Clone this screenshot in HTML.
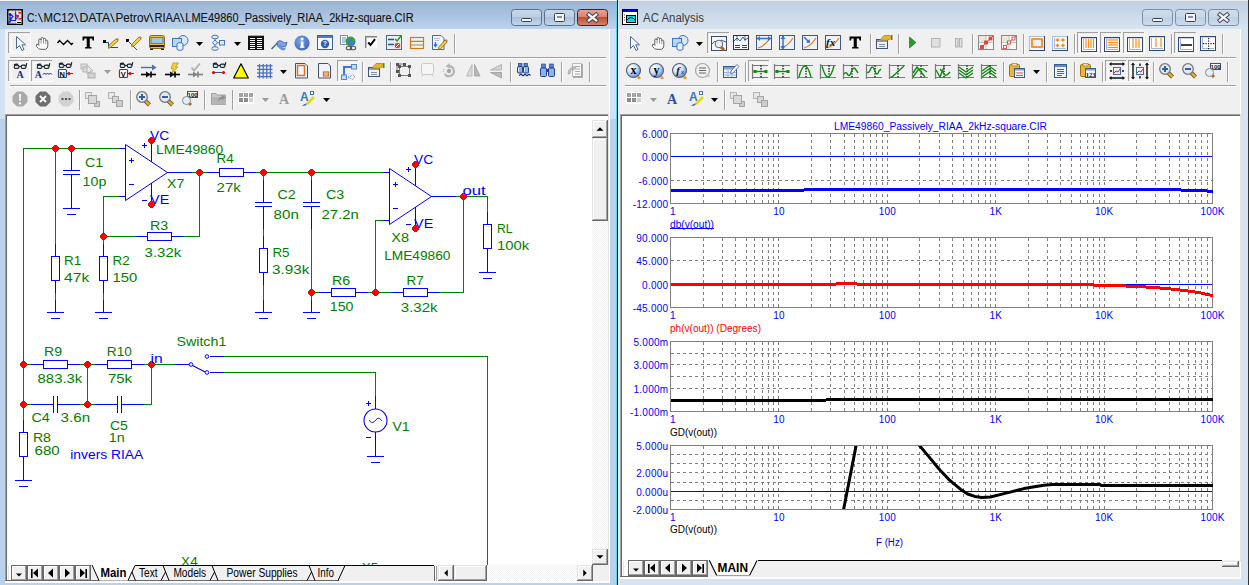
<!DOCTYPE html>
<html><head><meta charset="utf-8"><title>Micro-Cap</title>
<style>html,body{margin:0;padding:0;background:#fff;overflow:hidden}svg{display:block}</style>
</head><body>
<svg width="1249" height="585" viewBox="0 0 1249 585" font-family="Liberation Sans, sans-serif">
<rect x="0" y="0" width="617" height="585" fill="#b9d1ea" />
<linearGradient id="tg0" x1="0" y1="0" x2="0" y2="1"><stop offset="0" stop-color="#97b2d2"/><stop offset="1" stop-color="#bcd3eb"/></linearGradient>
<rect x="0" y="1" width="617" height="28" fill="url(#tg0)" />
<rect x="0" y="0" width="617" height="1" fill="#f3f5f8" />
<rect x="617" y="0" width="632" height="585" fill="#d6e3f1" />
<linearGradient id="tg617" x1="0" y1="0" x2="0" y2="1"><stop offset="0" stop-color="#bfcfdf"/><stop offset="1" stop-color="#d7e4f2"/></linearGradient>
<rect x="617" y="1" width="632" height="28" fill="url(#tg617)" />
<rect x="617" y="0" width="632" height="1" fill="#e9edf2" />
<rect x="0" y="29" width="5" height="90" fill="#d3e2f2" />
<rect x="610" y="29" width="6" height="90" fill="#d3e2f2" />
<rect x="616" y="1" width="1" height="584" fill="#5cd0f2" />
<rect x="617" y="0" width="1" height="585" fill="#111" />
<rect x="618" y="1" width="1" height="584" fill="#e4eef8" />
<rect x="619" y="29" width="1" height="556" fill="#e4eef8" />
<rect x="1248" y="0" width="1" height="585" fill="#333" />
<rect x="5" y="29" width="605" height="552" fill="#f0f0f0" />
<rect x="5" y="581" width="605" height="1" fill="#ffffff" />
<rect x="5" y="582" width="605" height="1" fill="#ffffff" />
<rect x="609" y="29" width="1" height="554" fill="#ffffff" />
<rect x="620" y="29" width="620" height="548" fill="#f0f0f0" />
<rect x="620" y="577" width="621" height="1" fill="#ffffff" />
<rect x="620" y="578" width="621" height="1" fill="#ffffff" />
<rect x="1240" y="29" width="1" height="550" fill="#ffffff" />
<text x="27.0" y="22" fill="#141414" font-size="12" textLength="10.4" lengthAdjust="spacingAndGlyphs" stroke="#141414" stroke-width="0.12">C:</text>
<text x="43.5" y="22" fill="#141414" font-size="12" textLength="30.3" lengthAdjust="spacingAndGlyphs" stroke="#141414" stroke-width="0.12">MC12</text>
<text x="79.4" y="22" fill="#141414" font-size="12" textLength="30.9" lengthAdjust="spacingAndGlyphs" stroke="#141414" stroke-width="0.12">DATA</text>
<text x="115.5" y="22" fill="#141414" font-size="12" textLength="33.8" lengthAdjust="spacingAndGlyphs" stroke="#141414" stroke-width="0.12">Petrov</text>
<text x="154.4" y="22" fill="#141414" font-size="12" textLength="25.9" lengthAdjust="spacingAndGlyphs" stroke="#141414" stroke-width="0.12">RIAA</text>
<text x="185.3" y="22" fill="#141414" font-size="12" textLength="228.3" lengthAdjust="spacingAndGlyphs" stroke="#141414" stroke-width="0.12">LME49860_Passively_RIAA_2kHz-square.CIR</text>
<path d="M38.4 13.2 L42.4 22.3" stroke="#222" stroke-width="1.05"/>
<path d="M74.5 13.2 L78.2 22.3" stroke="#222" stroke-width="1.05"/>
<path d="M110.5 13.2 L114.3 22.3" stroke="#222" stroke-width="1.05"/>
<path d="M149.5 13.2 L153.2 22.3" stroke="#222" stroke-width="1.05"/>
<path d="M180.4 13.2 L184.1 22.3" stroke="#222" stroke-width="1.05"/>
<text x="643" y="21.5" fill="#3c3c3c" font-size="12" textLength="61" lengthAdjust="spacingAndGlyphs" >AC Analysis</text>
<linearGradient id="cb511" x1="0" y1="0" x2="0" y2="1"><stop offset="0" stop-color="#c6d7ea"/><stop offset="0.45" stop-color="#bccfe4"/><stop offset="0.5" stop-color="#a9c0db"/><stop offset="1" stop-color="#c3d6ec"/></linearGradient>
<rect x="511.5" y="9.5" width="30" height="16" rx="3" fill="url(#cb511)" stroke="#5d6f86"/>
<rect x="521.5" y="18.5" width="10" height="3" rx="1" fill="#f4f4f4" stroke="#3b3f55" stroke-width="1"/>
<linearGradient id="cb544" x1="0" y1="0" x2="0" y2="1"><stop offset="0" stop-color="#c6d7ea"/><stop offset="0.45" stop-color="#bccfe4"/><stop offset="0.5" stop-color="#a9c0db"/><stop offset="1" stop-color="#c3d6ec"/></linearGradient>
<rect x="544.5" y="9.5" width="30" height="16" rx="3" fill="url(#cb544)" stroke="#5d6f86"/>
<rect x="554.5" y="13.5" width="10" height="8" rx="1" fill="#f4f4f4" stroke="#3b3f55" stroke-width="1"/>
<rect x="557.0" y="16" width="5" height="2" fill="#8090b0"/>
<linearGradient id="cb577" x1="0" y1="0" x2="0" y2="1"><stop offset="0" stop-color="#e8a493"/><stop offset="0.45" stop-color="#d98570"/><stop offset="0.5" stop-color="#c24e30"/><stop offset="1" stop-color="#d7866e"/></linearGradient>
<rect x="577.5" y="9.5" width="30" height="16" rx="3" fill="url(#cb577)" stroke="#5a1a1a"/>
<path d="M588.9 14.6 L596.1 20.4 M596.1 14.6 L588.9 20.4" stroke="#3b3f55" stroke-width="4.2" stroke-linecap="square"/>
<path d="M588.9 14.6 L596.1 20.4 M596.1 14.6 L588.9 20.4" stroke="#f4f4f4" stroke-width="2.4" stroke-linecap="square"/>
<linearGradient id="cb1142" x1="0" y1="0" x2="0" y2="1"><stop offset="0" stop-color="#cfdcea"/><stop offset="0.45" stop-color="#c9d8e8"/><stop offset="0.5" stop-color="#bfd0e3"/><stop offset="1" stop-color="#ccdcec"/></linearGradient>
<rect x="1142.5" y="9.5" width="30" height="16" rx="3" fill="url(#cb1142)" stroke="#7d8ea6"/>
<rect x="1152.5" y="18.5" width="10" height="3" rx="1" fill="#f4f4f4" stroke="#3b3f55" stroke-width="1"/>
<linearGradient id="cb1175" x1="0" y1="0" x2="0" y2="1"><stop offset="0" stop-color="#cfdcea"/><stop offset="0.45" stop-color="#c9d8e8"/><stop offset="0.5" stop-color="#bfd0e3"/><stop offset="1" stop-color="#ccdcec"/></linearGradient>
<rect x="1175.5" y="9.5" width="30" height="16" rx="3" fill="url(#cb1175)" stroke="#7d8ea6"/>
<rect x="1185.5" y="13.5" width="10" height="8" rx="1" fill="#f4f4f4" stroke="#3b3f55" stroke-width="1"/>
<rect x="1188.0" y="16" width="5" height="2" fill="#8090b0"/>
<linearGradient id="cb1208" x1="0" y1="0" x2="0" y2="1"><stop offset="0" stop-color="#cfdcea"/><stop offset="0.45" stop-color="#c9d8e8"/><stop offset="0.5" stop-color="#bfd0e3"/><stop offset="1" stop-color="#ccdcec"/></linearGradient>
<rect x="1208.5" y="9.5" width="30" height="16" rx="3" fill="url(#cb1208)" stroke="#7d8ea6"/>
<path d="M1219.9 14.6 L1227.1 20.4 M1227.1 14.6 L1219.9 20.4" stroke="#3b3f55" stroke-width="4.2" stroke-linecap="square"/>
<path d="M1219.9 14.6 L1227.1 20.4 M1227.1 14.6 L1219.9 20.4" stroke="#f4f4f4" stroke-width="2.4" stroke-linecap="square"/>
<rect x="10" y="57" width="596" height="1" fill="#a0a0a0" />
<rect x="10" y="58" width="596" height="1" fill="#ffffff" />
<rect x="10" y="85" width="596" height="1" fill="#a0a0a0" />
<rect x="10" y="86" width="596" height="1" fill="#ffffff" />
<rect x="625" y="57" width="611" height="1" fill="#a0a0a0" />
<rect x="625" y="58" width="611" height="1" fill="#ffffff" />
<rect x="625" y="85" width="611" height="1" fill="#a0a0a0" />
<rect x="625" y="86" width="611" height="1" fill="#ffffff" />
<rect x="5" y="114" width="604" height="453" fill="#ffffff" />
<rect x="5" y="114" width="604" height="1" fill="#a0a0a0" />
<rect x="5" y="114" width="1" height="453" fill="#a0a0a0" />
<rect x="6" y="115" width="602" height="1" fill="#696969" />
<rect x="6" y="115" width="1" height="452" fill="#696969" />
<rect x="608" y="114" width="1" height="453" fill="#e3e3e3" />
<rect x="5" y="566" width="1" height="15" fill="#a0a0a0" />
<rect x="6" y="566" width="1" height="15" fill="#696969" />
<rect x="620" y="114" width="621" height="448" fill="#ffffff" />
<rect x="620" y="114" width="621" height="1" fill="#a0a0a0" />
<rect x="620" y="114" width="1" height="448" fill="#a0a0a0" />
<rect x="621" y="115" width="619" height="1" fill="#696969" />
<rect x="621" y="115" width="1" height="447" fill="#696969" />
<rect x="1240" y="114" width="1" height="448" fill="#e3e3e3" />
<rect x="620" y="561" width="1" height="16" fill="#a0a0a0" />
<rect x="621" y="561" width="1" height="16" fill="#696969" />
<clipPath id="schclip"><rect x="7" y="116" width="585" height="449"/></clipPath>
<g clip-path="url(#schclip)">
<path d="M119.5 148.5 L23.5 148.5 L23.5 420.5" stroke="#008000" stroke-width="1" fill="none" shape-rendering="crispEdges" stroke-linecap="square"/>
<path d="M55.5 148.5 L55.5 244.5" stroke="#008000" stroke-width="1" fill="none" shape-rendering="crispEdges" stroke-linecap="square"/>
<path d="M55.5 292.5 L55.5 300.5" stroke="#008000" stroke-width="1" fill="none" shape-rendering="crispEdges" stroke-linecap="square"/>
<path d="M119.5 196.5 L103.5 196.5 L103.5 244.5" stroke="#008000" stroke-width="1" fill="none" shape-rendering="crispEdges" stroke-linecap="square"/>
<path d="M103.5 292.5 L103.5 300.5" stroke="#008000" stroke-width="1" fill="none" shape-rendering="crispEdges" stroke-linecap="square"/>
<path d="M103.5 236.5 L135.5 236.5" stroke="#008000" stroke-width="1" fill="none" shape-rendering="crispEdges" stroke-linecap="square"/>
<path d="M183.5 236.5 L199.5 236.5 L199.5 172.5" stroke="#008000" stroke-width="1" fill="none" shape-rendering="crispEdges" stroke-linecap="square"/>
<path d="M191.5 172.5 L207.5 172.5" stroke="#008000" stroke-width="1" fill="none" shape-rendering="crispEdges" stroke-linecap="square"/>
<path d="M255.5 172.5 L383.5 172.5" stroke="#008000" stroke-width="1" fill="none" shape-rendering="crispEdges" stroke-linecap="square"/>
<path d="M263.5 172.5 L263.5 180.5" stroke="#008000" stroke-width="1" fill="none" shape-rendering="crispEdges" stroke-linecap="square"/>
<path d="M263.5 228.5 L263.5 236.5" stroke="#008000" stroke-width="1" fill="none" shape-rendering="crispEdges" stroke-linecap="square"/>
<path d="M263.5 284.5 L263.5 300.5" stroke="#008000" stroke-width="1" fill="none" shape-rendering="crispEdges" stroke-linecap="square"/>
<path d="M311.5 172.5 L311.5 180.5" stroke="#008000" stroke-width="1" fill="none" shape-rendering="crispEdges" stroke-linecap="square"/>
<path d="M311.5 228.5 L311.5 300.5" stroke="#008000" stroke-width="1" fill="none" shape-rendering="crispEdges" stroke-linecap="square"/>
<path d="M311.5 292.5 L319.5 292.5" stroke="#008000" stroke-width="1" fill="none" shape-rendering="crispEdges" stroke-linecap="square"/>
<path d="M367.5 292.5 L391.5 292.5" stroke="#008000" stroke-width="1" fill="none" shape-rendering="crispEdges" stroke-linecap="square"/>
<path d="M375.5 292.5 L375.5 220.5 L383.5 220.5" stroke="#008000" stroke-width="1" fill="none" shape-rendering="crispEdges" stroke-linecap="square"/>
<path d="M439.5 292.5 L463.5 292.5 L463.5 196.5" stroke="#008000" stroke-width="1" fill="none" shape-rendering="crispEdges" stroke-linecap="square"/>
<path d="M455.5 196.5 L487.5 196.5 L487.5 212.5" stroke="#008000" stroke-width="1" fill="none" shape-rendering="crispEdges" stroke-linecap="square"/>
<path d="M23.5 364.5 L31.5 364.5" stroke="#008000" stroke-width="1" fill="none" shape-rendering="crispEdges" stroke-linecap="square"/>
<path d="M79.5 364.5 L95.5 364.5" stroke="#008000" stroke-width="1" fill="none" shape-rendering="crispEdges" stroke-linecap="square"/>
<path d="M143.5 364.5 L175.5 364.5" stroke="#008000" stroke-width="1" fill="none" shape-rendering="crispEdges" stroke-linecap="square"/>
<path d="M87.5 364.5 L87.5 404.5" stroke="#008000" stroke-width="1" fill="none" shape-rendering="crispEdges" stroke-linecap="square"/>
<path d="M151.5 364.5 L151.5 404.5 L143.5 404.5" stroke="#008000" stroke-width="1" fill="none" shape-rendering="crispEdges" stroke-linecap="square"/>
<path d="M23.5 404.5 L31.5 404.5" stroke="#008000" stroke-width="1" fill="none" shape-rendering="crispEdges" stroke-linecap="square"/>
<path d="M79.5 404.5 L95.5 404.5" stroke="#008000" stroke-width="1" fill="none" shape-rendering="crispEdges" stroke-linecap="square"/>
<path d="M223.5 356.5 L487.5 356.5 L487.5 570.5" stroke="#008000" stroke-width="1" fill="none" shape-rendering="crispEdges" stroke-linecap="square"/>
<path d="M223.5 372.5 L375.5 372.5 L375.5 396.5" stroke="#008000" stroke-width="1" fill="none" shape-rendering="crispEdges" stroke-linecap="square"/>
<path d="M71.5 148.5 L71.5 170.5" stroke="#0000ff" stroke-width="1" fill="none" shape-rendering="crispEdges" stroke-linecap="square"/>
<path d="M71.5 174.5 L71.5 196.5" stroke="#0000ff" stroke-width="1" fill="none" shape-rendering="crispEdges" stroke-linecap="square"/>
<path d="M63.5 170.5 L79.5 170.5" stroke="#0000ff" stroke-width="1" fill="none" shape-rendering="crispEdges" stroke-linecap="square"/>
<path d="M63.5 174.5 L79.5 174.5" stroke="#0000ff" stroke-width="1" fill="none" shape-rendering="crispEdges" stroke-linecap="square"/>
<path d="M71.5 196.5 L71.5 208.5" stroke="#0000ff" stroke-width="1" fill="none" shape-rendering="crispEdges" stroke-linecap="square"/>
<path d="M63.5 208.5 L79.5 208.5" stroke="#0000ff" stroke-width="1" fill="none" shape-rendering="crispEdges" stroke-linecap="square"/>
<path d="M67.5 214.5 L75.5 214.5" stroke="#0000ff" stroke-width="1" fill="none" shape-rendering="crispEdges" stroke-linecap="square"/>
<path d="M55.5 244.5 L55.5 256.5" stroke="#0000ff" stroke-width="1" fill="none" shape-rendering="crispEdges" stroke-linecap="square"/>
<path d="M55.5 280.5 L55.5 292.5" stroke="#0000ff" stroke-width="1" fill="none" shape-rendering="crispEdges" stroke-linecap="square"/>
<rect x="51.5" y="256.5" width="8" height="24" fill="none" stroke="#0000ff" shape-rendering="crispEdges"/>
<path d="M55.5 300.5 L55.5 312.5" stroke="#0000ff" stroke-width="1" fill="none" shape-rendering="crispEdges" stroke-linecap="square"/>
<path d="M47.5 312.5 L63.5 312.5" stroke="#0000ff" stroke-width="1" fill="none" shape-rendering="crispEdges" stroke-linecap="square"/>
<path d="M51.5 318.5 L59.5 318.5" stroke="#0000ff" stroke-width="1" fill="none" shape-rendering="crispEdges" stroke-linecap="square"/>
<path d="M103.5 244.5 L103.5 256.5" stroke="#0000ff" stroke-width="1" fill="none" shape-rendering="crispEdges" stroke-linecap="square"/>
<path d="M103.5 280.5 L103.5 292.5" stroke="#0000ff" stroke-width="1" fill="none" shape-rendering="crispEdges" stroke-linecap="square"/>
<rect x="99.5" y="256.5" width="8" height="24" fill="none" stroke="#0000ff" shape-rendering="crispEdges"/>
<path d="M103.5 300.5 L103.5 312.5" stroke="#0000ff" stroke-width="1" fill="none" shape-rendering="crispEdges" stroke-linecap="square"/>
<path d="M95.5 312.5 L111.5 312.5" stroke="#0000ff" stroke-width="1" fill="none" shape-rendering="crispEdges" stroke-linecap="square"/>
<path d="M99.5 318.5 L107.5 318.5" stroke="#0000ff" stroke-width="1" fill="none" shape-rendering="crispEdges" stroke-linecap="square"/>
<path d="M135.5 236.5 L147.5 236.5" stroke="#0000ff" stroke-width="1" fill="none" shape-rendering="crispEdges" stroke-linecap="square"/>
<path d="M171.5 236.5 L183.5 236.5" stroke="#0000ff" stroke-width="1" fill="none" shape-rendering="crispEdges" stroke-linecap="square"/>
<rect x="147.5" y="232.5" width="24" height="8" fill="none" stroke="#0000ff" shape-rendering="crispEdges"/>
<path d="M207.5 172.5 L219.5 172.5" stroke="#0000ff" stroke-width="1" fill="none" shape-rendering="crispEdges" stroke-linecap="square"/>
<path d="M243.5 172.5 L255.5 172.5" stroke="#0000ff" stroke-width="1" fill="none" shape-rendering="crispEdges" stroke-linecap="square"/>
<rect x="219.5" y="168.5" width="24" height="8" fill="none" stroke="#0000ff" shape-rendering="crispEdges"/>
<path d="M263.5 180.5 L263.5 202.5" stroke="#0000ff" stroke-width="1" fill="none" shape-rendering="crispEdges" stroke-linecap="square"/>
<path d="M263.5 206.5 L263.5 228.5" stroke="#0000ff" stroke-width="1" fill="none" shape-rendering="crispEdges" stroke-linecap="square"/>
<path d="M255.5 202.5 L271.5 202.5" stroke="#0000ff" stroke-width="1" fill="none" shape-rendering="crispEdges" stroke-linecap="square"/>
<path d="M255.5 206.5 L271.5 206.5" stroke="#0000ff" stroke-width="1" fill="none" shape-rendering="crispEdges" stroke-linecap="square"/>
<path d="M263.5 236.5 L263.5 248.5" stroke="#0000ff" stroke-width="1" fill="none" shape-rendering="crispEdges" stroke-linecap="square"/>
<path d="M263.5 272.5 L263.5 284.5" stroke="#0000ff" stroke-width="1" fill="none" shape-rendering="crispEdges" stroke-linecap="square"/>
<rect x="259.5" y="248.5" width="8" height="24" fill="none" stroke="#0000ff" shape-rendering="crispEdges"/>
<path d="M263.5 300.5 L263.5 312.5" stroke="#0000ff" stroke-width="1" fill="none" shape-rendering="crispEdges" stroke-linecap="square"/>
<path d="M255.5 312.5 L271.5 312.5" stroke="#0000ff" stroke-width="1" fill="none" shape-rendering="crispEdges" stroke-linecap="square"/>
<path d="M259.5 318.5 L267.5 318.5" stroke="#0000ff" stroke-width="1" fill="none" shape-rendering="crispEdges" stroke-linecap="square"/>
<path d="M311.5 180.5 L311.5 202.5" stroke="#0000ff" stroke-width="1" fill="none" shape-rendering="crispEdges" stroke-linecap="square"/>
<path d="M311.5 206.5 L311.5 228.5" stroke="#0000ff" stroke-width="1" fill="none" shape-rendering="crispEdges" stroke-linecap="square"/>
<path d="M303.5 202.5 L319.5 202.5" stroke="#0000ff" stroke-width="1" fill="none" shape-rendering="crispEdges" stroke-linecap="square"/>
<path d="M303.5 206.5 L319.5 206.5" stroke="#0000ff" stroke-width="1" fill="none" shape-rendering="crispEdges" stroke-linecap="square"/>
<path d="M311.5 300.5 L311.5 312.5" stroke="#0000ff" stroke-width="1" fill="none" shape-rendering="crispEdges" stroke-linecap="square"/>
<path d="M303.5 312.5 L319.5 312.5" stroke="#0000ff" stroke-width="1" fill="none" shape-rendering="crispEdges" stroke-linecap="square"/>
<path d="M307.5 318.5 L315.5 318.5" stroke="#0000ff" stroke-width="1" fill="none" shape-rendering="crispEdges" stroke-linecap="square"/>
<path d="M319.5 292.5 L331.5 292.5" stroke="#0000ff" stroke-width="1" fill="none" shape-rendering="crispEdges" stroke-linecap="square"/>
<path d="M355.5 292.5 L367.5 292.5" stroke="#0000ff" stroke-width="1" fill="none" shape-rendering="crispEdges" stroke-linecap="square"/>
<rect x="331.5" y="288.5" width="24" height="8" fill="none" stroke="#0000ff" shape-rendering="crispEdges"/>
<path d="M391.5 292.5 L403.5 292.5" stroke="#0000ff" stroke-width="1" fill="none" shape-rendering="crispEdges" stroke-linecap="square"/>
<path d="M427.5 292.5 L439.5 292.5" stroke="#0000ff" stroke-width="1" fill="none" shape-rendering="crispEdges" stroke-linecap="square"/>
<rect x="403.5" y="288.5" width="24" height="8" fill="none" stroke="#0000ff" shape-rendering="crispEdges"/>
<path d="M487.5 212.5 L487.5 224.5" stroke="#0000ff" stroke-width="1" fill="none" shape-rendering="crispEdges" stroke-linecap="square"/>
<path d="M487.5 248.5 L487.5 260.5" stroke="#0000ff" stroke-width="1" fill="none" shape-rendering="crispEdges" stroke-linecap="square"/>
<rect x="483.5" y="224.5" width="8" height="24" fill="none" stroke="#0000ff" shape-rendering="crispEdges"/>
<path d="M487.5 260.5 L487.5 272.5" stroke="#0000ff" stroke-width="1" fill="none" shape-rendering="crispEdges" stroke-linecap="square"/>
<path d="M479.5 272.5 L495.5 272.5" stroke="#0000ff" stroke-width="1" fill="none" shape-rendering="crispEdges" stroke-linecap="square"/>
<path d="M483.5 278.5 L491.5 278.5" stroke="#0000ff" stroke-width="1" fill="none" shape-rendering="crispEdges" stroke-linecap="square"/>
<path d="M31.5 364.5 L43.5 364.5" stroke="#0000ff" stroke-width="1" fill="none" shape-rendering="crispEdges" stroke-linecap="square"/>
<path d="M67.5 364.5 L79.5 364.5" stroke="#0000ff" stroke-width="1" fill="none" shape-rendering="crispEdges" stroke-linecap="square"/>
<rect x="43.5" y="360.5" width="24" height="8" fill="none" stroke="#0000ff" shape-rendering="crispEdges"/>
<path d="M95.5 364.5 L107.5 364.5" stroke="#0000ff" stroke-width="1" fill="none" shape-rendering="crispEdges" stroke-linecap="square"/>
<path d="M131.5 364.5 L143.5 364.5" stroke="#0000ff" stroke-width="1" fill="none" shape-rendering="crispEdges" stroke-linecap="square"/>
<rect x="107.5" y="360.5" width="24" height="8" fill="none" stroke="#0000ff" shape-rendering="crispEdges"/>
<path d="M31.5 404.5 L53.5 404.5" stroke="#0000ff" stroke-width="1" fill="none" shape-rendering="crispEdges" stroke-linecap="square"/>
<path d="M57.5 404.5 L79.5 404.5" stroke="#0000ff" stroke-width="1" fill="none" shape-rendering="crispEdges" stroke-linecap="square"/>
<path d="M53.5 396.5 L53.5 412.5" stroke="#0000ff" stroke-width="1" fill="none" shape-rendering="crispEdges" stroke-linecap="square"/>
<path d="M57.5 396.5 L57.5 412.5" stroke="#0000ff" stroke-width="1" fill="none" shape-rendering="crispEdges" stroke-linecap="square"/>
<path d="M95.5 404.5 L117.5 404.5" stroke="#0000ff" stroke-width="1" fill="none" shape-rendering="crispEdges" stroke-linecap="square"/>
<path d="M121.5 404.5 L143.5 404.5" stroke="#0000ff" stroke-width="1" fill="none" shape-rendering="crispEdges" stroke-linecap="square"/>
<path d="M117.5 396.5 L117.5 412.5" stroke="#0000ff" stroke-width="1" fill="none" shape-rendering="crispEdges" stroke-linecap="square"/>
<path d="M121.5 396.5 L121.5 412.5" stroke="#0000ff" stroke-width="1" fill="none" shape-rendering="crispEdges" stroke-linecap="square"/>
<path d="M23.5 420.5 L23.5 432.5" stroke="#0000ff" stroke-width="1" fill="none" shape-rendering="crispEdges" stroke-linecap="square"/>
<path d="M23.5 456.5 L23.5 468.5" stroke="#0000ff" stroke-width="1" fill="none" shape-rendering="crispEdges" stroke-linecap="square"/>
<rect x="19.5" y="432.5" width="8" height="24" fill="none" stroke="#0000ff" shape-rendering="crispEdges"/>
<path d="M23.5 468.5 L23.5 480.5" stroke="#0000ff" stroke-width="1" fill="none" shape-rendering="crispEdges" stroke-linecap="square"/>
<path d="M15.5 480.5 L31.5 480.5" stroke="#0000ff" stroke-width="1" fill="none" shape-rendering="crispEdges" stroke-linecap="square"/>
<path d="M19.5 486.5 L27.5 486.5" stroke="#0000ff" stroke-width="1" fill="none" shape-rendering="crispEdges" stroke-linecap="square"/>
<path d="M119.5 148.5 L125.5 148.5" stroke="#0000ff" stroke-width="1" fill="none" shape-rendering="crispEdges" stroke-linecap="square"/>
<path d="M119.5 196.5 L125.5 196.5" stroke="#0000ff" stroke-width="1" fill="none" shape-rendering="crispEdges" stroke-linecap="square"/>
<path d="M125.5 144.5 L125.5 200.5 L167.5 172.5 Z" fill="none" stroke="#0000ff" stroke-width="1"/>
<path d="M167.5 172.5 L191.5 172.5" stroke="#0000ff" stroke-width="1" fill="none" shape-rendering="crispEdges" stroke-linecap="square"/>
<path d="M151.5 140.5 L151.5 161.5" stroke="#0000ff" stroke-width="1" fill="none" shape-rendering="crispEdges" stroke-linecap="square"/>
<path d="M151.5 183.5 L151.5 204.5" stroke="#0000ff" stroke-width="1" fill="none" shape-rendering="crispEdges" stroke-linecap="square"/>
<path d="M129.5 160.5 L133.5 160.5" stroke="#0000ff" stroke-width="1" fill="none" shape-rendering="crispEdges" stroke-linecap="square"/>
<path d="M131.5 158.5 L131.5 162.5" stroke="#0000ff" stroke-width="1" fill="none" shape-rendering="crispEdges" stroke-linecap="square"/>
<path d="M129.5 184.5 L133.5 184.5" stroke="#0000ff" stroke-width="1" fill="none" shape-rendering="crispEdges" stroke-linecap="square"/>
<path d="M142.5 145.5 L146.5 145.5" stroke="#0000ff" stroke-width="1" fill="none" shape-rendering="crispEdges" stroke-linecap="square"/>
<path d="M144.5 143.5 L144.5 147.5" stroke="#0000ff" stroke-width="1" fill="none" shape-rendering="crispEdges" stroke-linecap="square"/>
<path d="M142.5 200.5 L146.5 200.5" stroke="#0000ff" stroke-width="1" fill="none" shape-rendering="crispEdges" stroke-linecap="square"/>
<path d="M383.5 172.5 L389.5 172.5" stroke="#0000ff" stroke-width="1" fill="none" shape-rendering="crispEdges" stroke-linecap="square"/>
<path d="M383.5 220.5 L389.5 220.5" stroke="#0000ff" stroke-width="1" fill="none" shape-rendering="crispEdges" stroke-linecap="square"/>
<path d="M389.5 168.5 L389.5 224.5 L431.5 196.5 Z" fill="none" stroke="#0000ff" stroke-width="1"/>
<path d="M431.5 196.5 L455.5 196.5" stroke="#0000ff" stroke-width="1" fill="none" shape-rendering="crispEdges" stroke-linecap="square"/>
<path d="M415.5 164.5 L415.5 185.5" stroke="#0000ff" stroke-width="1" fill="none" shape-rendering="crispEdges" stroke-linecap="square"/>
<path d="M415.5 207.5 L415.5 228.5" stroke="#0000ff" stroke-width="1" fill="none" shape-rendering="crispEdges" stroke-linecap="square"/>
<path d="M393.5 184.5 L397.5 184.5" stroke="#0000ff" stroke-width="1" fill="none" shape-rendering="crispEdges" stroke-linecap="square"/>
<path d="M395.5 182.5 L395.5 186.5" stroke="#0000ff" stroke-width="1" fill="none" shape-rendering="crispEdges" stroke-linecap="square"/>
<path d="M393.5 208.5 L397.5 208.5" stroke="#0000ff" stroke-width="1" fill="none" shape-rendering="crispEdges" stroke-linecap="square"/>
<path d="M406.5 169.5 L410.5 169.5" stroke="#0000ff" stroke-width="1" fill="none" shape-rendering="crispEdges" stroke-linecap="square"/>
<path d="M408.5 167.5 L408.5 171.5" stroke="#0000ff" stroke-width="1" fill="none" shape-rendering="crispEdges" stroke-linecap="square"/>
<path d="M406.5 224.5 L410.5 224.5" stroke="#0000ff" stroke-width="1" fill="none" shape-rendering="crispEdges" stroke-linecap="square"/>
<path d="M175.5 364.5 L189.5 364.5" stroke="#0000ff" stroke-width="1" fill="none" shape-rendering="crispEdges" stroke-linecap="square"/>
<circle cx="191" cy="364.5" r="1.8" fill="#fff" stroke="#0000ff" stroke-width="1"/>
<path d="M192.5 365.5 L205.2 372" stroke="#0000ff" stroke-width="1.2"/>
<circle cx="207" cy="356.5" r="1.8" fill="#fff" stroke="#0000ff" stroke-width="1"/>
<circle cx="207" cy="372.5" r="1.8" fill="#fff" stroke="#0000ff" stroke-width="1"/>
<path d="M210.5 356.5 L223.5 356.5" stroke="#0000ff" stroke-width="1" fill="none" shape-rendering="crispEdges" stroke-linecap="square"/>
<path d="M210.5 372.5 L223.5 372.5" stroke="#0000ff" stroke-width="1" fill="none" shape-rendering="crispEdges" stroke-linecap="square"/>
<path d="M375.5 396.5 L375.5 408.5" stroke="#0000ff" stroke-width="1" fill="none" shape-rendering="crispEdges" stroke-linecap="square"/>
<path d="M375.5 432.5 L375.5 444.5" stroke="#0000ff" stroke-width="1" fill="none" shape-rendering="crispEdges" stroke-linecap="square"/>
<path d="M375.5 444.5 L375.5 456.5" stroke="#0000ff" stroke-width="1" fill="none" shape-rendering="crispEdges" stroke-linecap="square"/>
<path d="M367.5 456.5 L383.5 456.5" stroke="#0000ff" stroke-width="1" fill="none" shape-rendering="crispEdges" stroke-linecap="square"/>
<path d="M371.5 462.5 L379.5 462.5" stroke="#0000ff" stroke-width="1" fill="none" shape-rendering="crispEdges" stroke-linecap="square"/>
<circle cx="375.5" cy="420.5" r="11.5" fill="none" stroke="#0000ff" stroke-width="1.1"/>
<path d="M369.3 420.2 C370.5 422.5 372.5 423.2 374.5 421.5 C376.5 419 378 417.6 379.5 418.4 C380.5 419 381.2 420 381.8 420.8" fill="none" stroke="#0000ff" stroke-width="1"/>
<path d="M366.5 403.5 L370.5 403.5" stroke="#0000ff" stroke-width="1" fill="none" shape-rendering="crispEdges" stroke-linecap="square"/>
<path d="M368.5 401.5 L368.5 405.5" stroke="#0000ff" stroke-width="1" fill="none" shape-rendering="crispEdges" stroke-linecap="square"/>
<path d="M366.5 437.5 L370.5 437.5" stroke="#0000ff" stroke-width="1" fill="none" shape-rendering="crispEdges" stroke-linecap="square"/>
<path d="M54 145h3v1h1v1h1v3h-1v1h-1v1h-3v-1h-1v-1h-1v-3h1v-1h1z" fill="#ff0000"/>
<path d="M70 145h3v1h1v1h1v3h-1v1h-1v1h-3v-1h-1v-1h-1v-3h1v-1h1z" fill="#ff0000"/>
<path d="M198 169h3v1h1v1h1v3h-1v1h-1v1h-3v-1h-1v-1h-1v-3h1v-1h1z" fill="#ff0000"/>
<path d="M102 233h3v1h1v1h1v3h-1v1h-1v1h-3v-1h-1v-1h-1v-3h1v-1h1z" fill="#ff0000"/>
<path d="M262 169h3v1h1v1h1v3h-1v1h-1v1h-3v-1h-1v-1h-1v-3h1v-1h1z" fill="#ff0000"/>
<path d="M310 169h3v1h1v1h1v3h-1v1h-1v1h-3v-1h-1v-1h-1v-3h1v-1h1z" fill="#ff0000"/>
<path d="M310 289h3v1h1v1h1v3h-1v1h-1v1h-3v-1h-1v-1h-1v-3h1v-1h1z" fill="#ff0000"/>
<path d="M374 289h3v1h1v1h1v3h-1v1h-1v1h-3v-1h-1v-1h-1v-3h1v-1h1z" fill="#ff0000"/>
<path d="M462 193h3v1h1v1h1v3h-1v1h-1v1h-3v-1h-1v-1h-1v-3h1v-1h1z" fill="#ff0000"/>
<path d="M22 361h3v1h1v1h1v3h-1v1h-1v1h-3v-1h-1v-1h-1v-3h1v-1h1z" fill="#ff0000"/>
<path d="M86 361h3v1h1v1h1v3h-1v1h-1v1h-3v-1h-1v-1h-1v-3h1v-1h1z" fill="#ff0000"/>
<path d="M150 361h3v1h1v1h1v3h-1v1h-1v1h-3v-1h-1v-1h-1v-3h1v-1h1z" fill="#ff0000"/>
<path d="M22 401h3v1h1v1h1v3h-1v1h-1v1h-3v-1h-1v-1h-1v-3h1v-1h1z" fill="#ff0000"/>
<path d="M86 401h3v1h1v1h1v3h-1v1h-1v1h-3v-1h-1v-1h-1v-3h1v-1h1z" fill="#ff0000"/>
<path d="M150 137h3v1h1v1h1v3h-1v1h-1v1h-3v-1h-1v-1h-1v-3h1v-1h1z" fill="#ff0000"/>
<path d="M150 201h3v1h1v1h1v3h-1v1h-1v1h-3v-1h-1v-1h-1v-3h1v-1h1z" fill="#ff0000"/>
<path d="M414 161h3v1h1v1h1v3h-1v1h-1v1h-3v-1h-1v-1h-1v-3h1v-1h1z" fill="#ff0000"/>
<path d="M414 225h3v1h1v1h1v3h-1v1h-1v1h-3v-1h-1v-1h-1v-3h1v-1h1z" fill="#ff0000"/>
<text x="150.1" y="139.5" fill="#0000ff" font-size="12.2" textLength="19.2" lengthAdjust="spacingAndGlyphs" >VC</text>
<text x="156.1" y="153.5" fill="#008000" font-size="12.2" textLength="67.2" lengthAdjust="spacingAndGlyphs" >LME49860</text>
<text x="167.1" y="187.5" fill="#008000" font-size="12.2" textLength="17.2" lengthAdjust="spacingAndGlyphs" >X7</text>
<text x="150.1" y="203.5" fill="#0000ff" font-size="12.2" textLength="19.2" lengthAdjust="spacingAndGlyphs" >VE</text>
<text x="85.1" y="166.5" fill="#008000" font-size="12.2" textLength="18.2" lengthAdjust="spacingAndGlyphs" >C1</text>
<text x="82.6" y="185.5" fill="#008000" font-size="12.2" textLength="23.7" lengthAdjust="spacingAndGlyphs" >10p</text>
<text x="216.6" y="162.5" fill="#008000" font-size="12.2" textLength="17.2" lengthAdjust="spacingAndGlyphs" >R4</text>
<text x="216.6" y="192.0" fill="#008000" font-size="12.2" textLength="24.2" lengthAdjust="spacingAndGlyphs" >27k</text>
<text x="277.6" y="198.5" fill="#008000" font-size="12.2" textLength="18.2" lengthAdjust="spacingAndGlyphs" >C2</text>
<text x="273.6" y="218.5" fill="#008000" font-size="12.2" textLength="25.2" lengthAdjust="spacingAndGlyphs" >80n</text>
<text x="326.1" y="198.5" fill="#008000" font-size="12.2" textLength="18.2" lengthAdjust="spacingAndGlyphs" >C3</text>
<text x="321.6" y="218.5" fill="#008000" font-size="12.2" textLength="37.2" lengthAdjust="spacingAndGlyphs" >27.2n</text>
<text x="150.1" y="229.5" fill="#008000" font-size="12.2" textLength="18.2" lengthAdjust="spacingAndGlyphs" >R3</text>
<text x="144.6" y="256.5" fill="#008000" font-size="12.2" textLength="36.7" lengthAdjust="spacingAndGlyphs" >3.32k</text>
<text x="64.1" y="264.5" fill="#008000" font-size="12.2" textLength="17.2" lengthAdjust="spacingAndGlyphs" >R1</text>
<text x="64.1" y="281.5" fill="#008000" font-size="12.2" textLength="25.2" lengthAdjust="spacingAndGlyphs" >47k</text>
<text x="112.6" y="264.5" fill="#008000" font-size="12.2" textLength="17.2" lengthAdjust="spacingAndGlyphs" >R2</text>
<text x="112.6" y="281.5" fill="#008000" font-size="12.2" textLength="24.7" lengthAdjust="spacingAndGlyphs" >150</text>
<text x="272.4" y="256.5" fill="#008000" font-size="12.2" textLength="17.2" lengthAdjust="spacingAndGlyphs" >R5</text>
<text x="272.1" y="273.5" fill="#008000" font-size="12.2" textLength="37.2" lengthAdjust="spacingAndGlyphs" >3.93k</text>
<text x="332.1" y="284.5" fill="#008000" font-size="12.2" textLength="18.2" lengthAdjust="spacingAndGlyphs" >R6</text>
<text x="329.8" y="311.0" fill="#008000" font-size="12.2" textLength="23.7" lengthAdjust="spacingAndGlyphs" >150</text>
<text x="406.5" y="285.0" fill="#008000" font-size="12.2" textLength="17.2" lengthAdjust="spacingAndGlyphs" >R7</text>
<text x="400.8" y="311.5" fill="#008000" font-size="12.2" textLength="36.8" lengthAdjust="spacingAndGlyphs" >3.32k</text>
<text x="414.1" y="163.5" fill="#0000ff" font-size="12.2" textLength="19.2" lengthAdjust="spacingAndGlyphs" >VC</text>
<text x="414.1" y="227.5" fill="#0000ff" font-size="12.2" textLength="19.2" lengthAdjust="spacingAndGlyphs" >VE</text>
<text x="391.3" y="241.5" fill="#008000" font-size="12.2" textLength="17.8" lengthAdjust="spacingAndGlyphs" >X8</text>
<text x="384.2" y="259.5" fill="#008000" font-size="12.2" textLength="66.2" lengthAdjust="spacingAndGlyphs" >LME49860</text>
<text x="462.4" y="195.0" fill="#0000ff" font-size="12.2" textLength="23.2" lengthAdjust="spacingAndGlyphs" >out</text>
<text x="496.9" y="232.5" fill="#008000" font-size="12.2" textLength="15.5" lengthAdjust="spacingAndGlyphs" >RL</text>
<text x="496.9" y="249.5" fill="#008000" font-size="12.2" textLength="32.2" lengthAdjust="spacingAndGlyphs" >100k</text>
<text x="44.1" y="355.5" fill="#008000" font-size="12.2" textLength="18.0" lengthAdjust="spacingAndGlyphs" >R9</text>
<text x="37.6" y="383.0" fill="#008000" font-size="12.2" textLength="44.7" lengthAdjust="spacingAndGlyphs" >883.3k</text>
<text x="106.8" y="355.5" fill="#008000" font-size="12.2" textLength="25.0" lengthAdjust="spacingAndGlyphs" >R10</text>
<text x="107.9" y="383.0" fill="#008000" font-size="12.2" textLength="24.2" lengthAdjust="spacingAndGlyphs" >75k</text>
<text x="150.6" y="363.0" fill="#0000ff" font-size="12.2" textLength="12.2" lengthAdjust="spacingAndGlyphs" >in</text>
<text x="176.5" y="345.5" fill="#008000" font-size="12.2" textLength="49.8" lengthAdjust="spacingAndGlyphs" >Switch1</text>
<text x="31.4" y="421.5" fill="#008000" font-size="12.2" textLength="18.4" lengthAdjust="spacingAndGlyphs" >C4</text>
<text x="60.6" y="421.5" fill="#008000" font-size="12.2" textLength="29.5" lengthAdjust="spacingAndGlyphs" >3.6n</text>
<text x="109.9" y="429.5" fill="#008000" font-size="12.2" textLength="18.0" lengthAdjust="spacingAndGlyphs" >C5</text>
<text x="108.8" y="442.0" fill="#008000" font-size="12.2" textLength="16.0" lengthAdjust="spacingAndGlyphs" >1n</text>
<text x="70.3" y="459.0" fill="#0000ff" font-size="12.2" textLength="73.0" lengthAdjust="spacingAndGlyphs" >invers RIAA</text>
<text x="32.9" y="441.5" fill="#008000" font-size="12.2" textLength="18.1" lengthAdjust="spacingAndGlyphs" >R8</text>
<text x="34.5" y="455.0" fill="#008000" font-size="12.2" textLength="25.2" lengthAdjust="spacingAndGlyphs" >680</text>
<text x="392.4" y="430.5" fill="#008000" font-size="12.2" textLength="17.2" lengthAdjust="spacingAndGlyphs" >V1</text>
<text x="181.1" y="565.5" fill="#008000" font-size="12.2" textLength="16.6" lengthAdjust="spacingAndGlyphs" >X4</text>
<text x="361.8" y="572.0" fill="#008000" font-size="12.2" textLength="16.3" lengthAdjust="spacingAndGlyphs" >X5</text>
</g>
<line x1="703.5" y1="134" x2="703.5" y2="203" stroke="#808080" stroke-dasharray="3 3" shape-rendering="crispEdges"/>
<line x1="722.5" y1="134" x2="722.5" y2="203" stroke="#808080" stroke-dasharray="3 3" shape-rendering="crispEdges"/>
<line x1="735.5" y1="134" x2="735.5" y2="203" stroke="#808080" stroke-dasharray="3 3" shape-rendering="crispEdges"/>
<line x1="746.5" y1="134" x2="746.5" y2="203" stroke="#808080" stroke-dasharray="3 3" shape-rendering="crispEdges"/>
<line x1="754.5" y1="134" x2="754.5" y2="203" stroke="#808080" stroke-dasharray="3 3" shape-rendering="crispEdges"/>
<line x1="762.5" y1="134" x2="762.5" y2="203" stroke="#808080" stroke-dasharray="3 3" shape-rendering="crispEdges"/>
<line x1="768.5" y1="134" x2="768.5" y2="203" stroke="#808080" stroke-dasharray="3 3" shape-rendering="crispEdges"/>
<line x1="773.5" y1="134" x2="773.5" y2="203" stroke="#808080" stroke-dasharray="3 3" shape-rendering="crispEdges"/>
<line x1="778.5" y1="134" x2="778.5" y2="203" stroke="#808080" stroke-dasharray="3 3" shape-rendering="crispEdges"/>
<line x1="811.5" y1="134" x2="811.5" y2="203" stroke="#808080" stroke-dasharray="3 3" shape-rendering="crispEdges"/>
<line x1="830.5" y1="134" x2="830.5" y2="203" stroke="#808080" stroke-dasharray="3 3" shape-rendering="crispEdges"/>
<line x1="844.5" y1="134" x2="844.5" y2="203" stroke="#808080" stroke-dasharray="3 3" shape-rendering="crispEdges"/>
<line x1="854.5" y1="134" x2="854.5" y2="203" stroke="#808080" stroke-dasharray="3 3" shape-rendering="crispEdges"/>
<line x1="863.5" y1="134" x2="863.5" y2="203" stroke="#808080" stroke-dasharray="3 3" shape-rendering="crispEdges"/>
<line x1="870.5" y1="134" x2="870.5" y2="203" stroke="#808080" stroke-dasharray="3 3" shape-rendering="crispEdges"/>
<line x1="876.5" y1="134" x2="876.5" y2="203" stroke="#808080" stroke-dasharray="3 3" shape-rendering="crispEdges"/>
<line x1="882.5" y1="134" x2="882.5" y2="203" stroke="#808080" stroke-dasharray="3 3" shape-rendering="crispEdges"/>
<line x1="887.5" y1="134" x2="887.5" y2="203" stroke="#808080" stroke-dasharray="3 3" shape-rendering="crispEdges"/>
<line x1="919.5" y1="134" x2="919.5" y2="203" stroke="#808080" stroke-dasharray="3 3" shape-rendering="crispEdges"/>
<line x1="939.5" y1="134" x2="939.5" y2="203" stroke="#808080" stroke-dasharray="3 3" shape-rendering="crispEdges"/>
<line x1="952.5" y1="134" x2="952.5" y2="203" stroke="#808080" stroke-dasharray="3 3" shape-rendering="crispEdges"/>
<line x1="963.5" y1="134" x2="963.5" y2="203" stroke="#808080" stroke-dasharray="3 3" shape-rendering="crispEdges"/>
<line x1="971.5" y1="134" x2="971.5" y2="203" stroke="#808080" stroke-dasharray="3 3" shape-rendering="crispEdges"/>
<line x1="978.5" y1="134" x2="978.5" y2="203" stroke="#808080" stroke-dasharray="3 3" shape-rendering="crispEdges"/>
<line x1="985.5" y1="134" x2="985.5" y2="203" stroke="#808080" stroke-dasharray="3 3" shape-rendering="crispEdges"/>
<line x1="990.5" y1="134" x2="990.5" y2="203" stroke="#808080" stroke-dasharray="3 3" shape-rendering="crispEdges"/>
<line x1="995.5" y1="134" x2="995.5" y2="203" stroke="#808080" stroke-dasharray="3 3" shape-rendering="crispEdges"/>
<line x1="1028.5" y1="134" x2="1028.5" y2="203" stroke="#808080" stroke-dasharray="3 3" shape-rendering="crispEdges"/>
<line x1="1047.5" y1="134" x2="1047.5" y2="203" stroke="#808080" stroke-dasharray="3 3" shape-rendering="crispEdges"/>
<line x1="1060.5" y1="134" x2="1060.5" y2="203" stroke="#808080" stroke-dasharray="3 3" shape-rendering="crispEdges"/>
<line x1="1071.5" y1="134" x2="1071.5" y2="203" stroke="#808080" stroke-dasharray="3 3" shape-rendering="crispEdges"/>
<line x1="1080.5" y1="134" x2="1080.5" y2="203" stroke="#808080" stroke-dasharray="3 3" shape-rendering="crispEdges"/>
<line x1="1087.5" y1="134" x2="1087.5" y2="203" stroke="#808080" stroke-dasharray="3 3" shape-rendering="crispEdges"/>
<line x1="1093.5" y1="134" x2="1093.5" y2="203" stroke="#808080" stroke-dasharray="3 3" shape-rendering="crispEdges"/>
<line x1="1099.5" y1="134" x2="1099.5" y2="203" stroke="#808080" stroke-dasharray="3 3" shape-rendering="crispEdges"/>
<line x1="1104.5" y1="134" x2="1104.5" y2="203" stroke="#808080" stroke-dasharray="3 3" shape-rendering="crispEdges"/>
<line x1="1136.5" y1="134" x2="1136.5" y2="203" stroke="#808080" stroke-dasharray="3 3" shape-rendering="crispEdges"/>
<line x1="1155.5" y1="134" x2="1155.5" y2="203" stroke="#808080" stroke-dasharray="3 3" shape-rendering="crispEdges"/>
<line x1="1169.5" y1="134" x2="1169.5" y2="203" stroke="#808080" stroke-dasharray="3 3" shape-rendering="crispEdges"/>
<line x1="1179.5" y1="134" x2="1179.5" y2="203" stroke="#808080" stroke-dasharray="3 3" shape-rendering="crispEdges"/>
<line x1="1188.5" y1="134" x2="1188.5" y2="203" stroke="#808080" stroke-dasharray="3 3" shape-rendering="crispEdges"/>
<line x1="1195.5" y1="134" x2="1195.5" y2="203" stroke="#808080" stroke-dasharray="3 3" shape-rendering="crispEdges"/>
<line x1="1201.5" y1="134" x2="1201.5" y2="203" stroke="#808080" stroke-dasharray="3 3" shape-rendering="crispEdges"/>
<line x1="1207.5" y1="134" x2="1207.5" y2="203" stroke="#808080" stroke-dasharray="3 3" shape-rendering="crispEdges"/>
<line x1="671" y1="156.5" x2="1212" y2="156.5" stroke="#808080" stroke-dasharray="3 3" shape-rendering="crispEdges"/>
<line x1="671" y1="180.5" x2="1212" y2="180.5" stroke="#808080" stroke-dasharray="3 3" shape-rendering="crispEdges"/>
<rect x="670.5" y="133.5" width="542" height="70" fill="none" stroke="#808080" shape-rendering="crispEdges"/>
<line x1="703.5" y1="238" x2="703.5" y2="307" stroke="#808080" stroke-dasharray="3 3" shape-rendering="crispEdges"/>
<line x1="722.5" y1="238" x2="722.5" y2="307" stroke="#808080" stroke-dasharray="3 3" shape-rendering="crispEdges"/>
<line x1="735.5" y1="238" x2="735.5" y2="307" stroke="#808080" stroke-dasharray="3 3" shape-rendering="crispEdges"/>
<line x1="746.5" y1="238" x2="746.5" y2="307" stroke="#808080" stroke-dasharray="3 3" shape-rendering="crispEdges"/>
<line x1="754.5" y1="238" x2="754.5" y2="307" stroke="#808080" stroke-dasharray="3 3" shape-rendering="crispEdges"/>
<line x1="762.5" y1="238" x2="762.5" y2="307" stroke="#808080" stroke-dasharray="3 3" shape-rendering="crispEdges"/>
<line x1="768.5" y1="238" x2="768.5" y2="307" stroke="#808080" stroke-dasharray="3 3" shape-rendering="crispEdges"/>
<line x1="773.5" y1="238" x2="773.5" y2="307" stroke="#808080" stroke-dasharray="3 3" shape-rendering="crispEdges"/>
<line x1="778.5" y1="238" x2="778.5" y2="307" stroke="#808080" stroke-dasharray="3 3" shape-rendering="crispEdges"/>
<line x1="811.5" y1="238" x2="811.5" y2="307" stroke="#808080" stroke-dasharray="3 3" shape-rendering="crispEdges"/>
<line x1="830.5" y1="238" x2="830.5" y2="307" stroke="#808080" stroke-dasharray="3 3" shape-rendering="crispEdges"/>
<line x1="844.5" y1="238" x2="844.5" y2="307" stroke="#808080" stroke-dasharray="3 3" shape-rendering="crispEdges"/>
<line x1="854.5" y1="238" x2="854.5" y2="307" stroke="#808080" stroke-dasharray="3 3" shape-rendering="crispEdges"/>
<line x1="863.5" y1="238" x2="863.5" y2="307" stroke="#808080" stroke-dasharray="3 3" shape-rendering="crispEdges"/>
<line x1="870.5" y1="238" x2="870.5" y2="307" stroke="#808080" stroke-dasharray="3 3" shape-rendering="crispEdges"/>
<line x1="876.5" y1="238" x2="876.5" y2="307" stroke="#808080" stroke-dasharray="3 3" shape-rendering="crispEdges"/>
<line x1="882.5" y1="238" x2="882.5" y2="307" stroke="#808080" stroke-dasharray="3 3" shape-rendering="crispEdges"/>
<line x1="887.5" y1="238" x2="887.5" y2="307" stroke="#808080" stroke-dasharray="3 3" shape-rendering="crispEdges"/>
<line x1="919.5" y1="238" x2="919.5" y2="307" stroke="#808080" stroke-dasharray="3 3" shape-rendering="crispEdges"/>
<line x1="939.5" y1="238" x2="939.5" y2="307" stroke="#808080" stroke-dasharray="3 3" shape-rendering="crispEdges"/>
<line x1="952.5" y1="238" x2="952.5" y2="307" stroke="#808080" stroke-dasharray="3 3" shape-rendering="crispEdges"/>
<line x1="963.5" y1="238" x2="963.5" y2="307" stroke="#808080" stroke-dasharray="3 3" shape-rendering="crispEdges"/>
<line x1="971.5" y1="238" x2="971.5" y2="307" stroke="#808080" stroke-dasharray="3 3" shape-rendering="crispEdges"/>
<line x1="978.5" y1="238" x2="978.5" y2="307" stroke="#808080" stroke-dasharray="3 3" shape-rendering="crispEdges"/>
<line x1="985.5" y1="238" x2="985.5" y2="307" stroke="#808080" stroke-dasharray="3 3" shape-rendering="crispEdges"/>
<line x1="990.5" y1="238" x2="990.5" y2="307" stroke="#808080" stroke-dasharray="3 3" shape-rendering="crispEdges"/>
<line x1="995.5" y1="238" x2="995.5" y2="307" stroke="#808080" stroke-dasharray="3 3" shape-rendering="crispEdges"/>
<line x1="1028.5" y1="238" x2="1028.5" y2="307" stroke="#808080" stroke-dasharray="3 3" shape-rendering="crispEdges"/>
<line x1="1047.5" y1="238" x2="1047.5" y2="307" stroke="#808080" stroke-dasharray="3 3" shape-rendering="crispEdges"/>
<line x1="1060.5" y1="238" x2="1060.5" y2="307" stroke="#808080" stroke-dasharray="3 3" shape-rendering="crispEdges"/>
<line x1="1071.5" y1="238" x2="1071.5" y2="307" stroke="#808080" stroke-dasharray="3 3" shape-rendering="crispEdges"/>
<line x1="1080.5" y1="238" x2="1080.5" y2="307" stroke="#808080" stroke-dasharray="3 3" shape-rendering="crispEdges"/>
<line x1="1087.5" y1="238" x2="1087.5" y2="307" stroke="#808080" stroke-dasharray="3 3" shape-rendering="crispEdges"/>
<line x1="1093.5" y1="238" x2="1093.5" y2="307" stroke="#808080" stroke-dasharray="3 3" shape-rendering="crispEdges"/>
<line x1="1099.5" y1="238" x2="1099.5" y2="307" stroke="#808080" stroke-dasharray="3 3" shape-rendering="crispEdges"/>
<line x1="1104.5" y1="238" x2="1104.5" y2="307" stroke="#808080" stroke-dasharray="3 3" shape-rendering="crispEdges"/>
<line x1="1136.5" y1="238" x2="1136.5" y2="307" stroke="#808080" stroke-dasharray="3 3" shape-rendering="crispEdges"/>
<line x1="1155.5" y1="238" x2="1155.5" y2="307" stroke="#808080" stroke-dasharray="3 3" shape-rendering="crispEdges"/>
<line x1="1169.5" y1="238" x2="1169.5" y2="307" stroke="#808080" stroke-dasharray="3 3" shape-rendering="crispEdges"/>
<line x1="1179.5" y1="238" x2="1179.5" y2="307" stroke="#808080" stroke-dasharray="3 3" shape-rendering="crispEdges"/>
<line x1="1188.5" y1="238" x2="1188.5" y2="307" stroke="#808080" stroke-dasharray="3 3" shape-rendering="crispEdges"/>
<line x1="1195.5" y1="238" x2="1195.5" y2="307" stroke="#808080" stroke-dasharray="3 3" shape-rendering="crispEdges"/>
<line x1="1201.5" y1="238" x2="1201.5" y2="307" stroke="#808080" stroke-dasharray="3 3" shape-rendering="crispEdges"/>
<line x1="1207.5" y1="238" x2="1207.5" y2="307" stroke="#808080" stroke-dasharray="3 3" shape-rendering="crispEdges"/>
<line x1="671" y1="260.5" x2="1212" y2="260.5" stroke="#808080" stroke-dasharray="3 3" shape-rendering="crispEdges"/>
<line x1="671" y1="284.5" x2="1212" y2="284.5" stroke="#808080" stroke-dasharray="3 3" shape-rendering="crispEdges"/>
<rect x="670.5" y="237.5" width="542" height="70" fill="none" stroke="#808080" shape-rendering="crispEdges"/>
<line x1="703.5" y1="342" x2="703.5" y2="411" stroke="#808080" stroke-dasharray="3 3" shape-rendering="crispEdges"/>
<line x1="722.5" y1="342" x2="722.5" y2="411" stroke="#808080" stroke-dasharray="3 3" shape-rendering="crispEdges"/>
<line x1="735.5" y1="342" x2="735.5" y2="411" stroke="#808080" stroke-dasharray="3 3" shape-rendering="crispEdges"/>
<line x1="746.5" y1="342" x2="746.5" y2="411" stroke="#808080" stroke-dasharray="3 3" shape-rendering="crispEdges"/>
<line x1="754.5" y1="342" x2="754.5" y2="411" stroke="#808080" stroke-dasharray="3 3" shape-rendering="crispEdges"/>
<line x1="762.5" y1="342" x2="762.5" y2="411" stroke="#808080" stroke-dasharray="3 3" shape-rendering="crispEdges"/>
<line x1="768.5" y1="342" x2="768.5" y2="411" stroke="#808080" stroke-dasharray="3 3" shape-rendering="crispEdges"/>
<line x1="773.5" y1="342" x2="773.5" y2="411" stroke="#808080" stroke-dasharray="3 3" shape-rendering="crispEdges"/>
<line x1="778.5" y1="342" x2="778.5" y2="411" stroke="#808080" stroke-dasharray="3 3" shape-rendering="crispEdges"/>
<line x1="811.5" y1="342" x2="811.5" y2="411" stroke="#808080" stroke-dasharray="3 3" shape-rendering="crispEdges"/>
<line x1="830.5" y1="342" x2="830.5" y2="411" stroke="#808080" stroke-dasharray="3 3" shape-rendering="crispEdges"/>
<line x1="844.5" y1="342" x2="844.5" y2="411" stroke="#808080" stroke-dasharray="3 3" shape-rendering="crispEdges"/>
<line x1="854.5" y1="342" x2="854.5" y2="411" stroke="#808080" stroke-dasharray="3 3" shape-rendering="crispEdges"/>
<line x1="863.5" y1="342" x2="863.5" y2="411" stroke="#808080" stroke-dasharray="3 3" shape-rendering="crispEdges"/>
<line x1="870.5" y1="342" x2="870.5" y2="411" stroke="#808080" stroke-dasharray="3 3" shape-rendering="crispEdges"/>
<line x1="876.5" y1="342" x2="876.5" y2="411" stroke="#808080" stroke-dasharray="3 3" shape-rendering="crispEdges"/>
<line x1="882.5" y1="342" x2="882.5" y2="411" stroke="#808080" stroke-dasharray="3 3" shape-rendering="crispEdges"/>
<line x1="887.5" y1="342" x2="887.5" y2="411" stroke="#808080" stroke-dasharray="3 3" shape-rendering="crispEdges"/>
<line x1="919.5" y1="342" x2="919.5" y2="411" stroke="#808080" stroke-dasharray="3 3" shape-rendering="crispEdges"/>
<line x1="939.5" y1="342" x2="939.5" y2="411" stroke="#808080" stroke-dasharray="3 3" shape-rendering="crispEdges"/>
<line x1="952.5" y1="342" x2="952.5" y2="411" stroke="#808080" stroke-dasharray="3 3" shape-rendering="crispEdges"/>
<line x1="963.5" y1="342" x2="963.5" y2="411" stroke="#808080" stroke-dasharray="3 3" shape-rendering="crispEdges"/>
<line x1="971.5" y1="342" x2="971.5" y2="411" stroke="#808080" stroke-dasharray="3 3" shape-rendering="crispEdges"/>
<line x1="978.5" y1="342" x2="978.5" y2="411" stroke="#808080" stroke-dasharray="3 3" shape-rendering="crispEdges"/>
<line x1="985.5" y1="342" x2="985.5" y2="411" stroke="#808080" stroke-dasharray="3 3" shape-rendering="crispEdges"/>
<line x1="990.5" y1="342" x2="990.5" y2="411" stroke="#808080" stroke-dasharray="3 3" shape-rendering="crispEdges"/>
<line x1="995.5" y1="342" x2="995.5" y2="411" stroke="#808080" stroke-dasharray="3 3" shape-rendering="crispEdges"/>
<line x1="1028.5" y1="342" x2="1028.5" y2="411" stroke="#808080" stroke-dasharray="3 3" shape-rendering="crispEdges"/>
<line x1="1047.5" y1="342" x2="1047.5" y2="411" stroke="#808080" stroke-dasharray="3 3" shape-rendering="crispEdges"/>
<line x1="1060.5" y1="342" x2="1060.5" y2="411" stroke="#808080" stroke-dasharray="3 3" shape-rendering="crispEdges"/>
<line x1="1071.5" y1="342" x2="1071.5" y2="411" stroke="#808080" stroke-dasharray="3 3" shape-rendering="crispEdges"/>
<line x1="1080.5" y1="342" x2="1080.5" y2="411" stroke="#808080" stroke-dasharray="3 3" shape-rendering="crispEdges"/>
<line x1="1087.5" y1="342" x2="1087.5" y2="411" stroke="#808080" stroke-dasharray="3 3" shape-rendering="crispEdges"/>
<line x1="1093.5" y1="342" x2="1093.5" y2="411" stroke="#808080" stroke-dasharray="3 3" shape-rendering="crispEdges"/>
<line x1="1099.5" y1="342" x2="1099.5" y2="411" stroke="#808080" stroke-dasharray="3 3" shape-rendering="crispEdges"/>
<line x1="1104.5" y1="342" x2="1104.5" y2="411" stroke="#808080" stroke-dasharray="3 3" shape-rendering="crispEdges"/>
<line x1="1136.5" y1="342" x2="1136.5" y2="411" stroke="#808080" stroke-dasharray="3 3" shape-rendering="crispEdges"/>
<line x1="1155.5" y1="342" x2="1155.5" y2="411" stroke="#808080" stroke-dasharray="3 3" shape-rendering="crispEdges"/>
<line x1="1169.5" y1="342" x2="1169.5" y2="411" stroke="#808080" stroke-dasharray="3 3" shape-rendering="crispEdges"/>
<line x1="1179.5" y1="342" x2="1179.5" y2="411" stroke="#808080" stroke-dasharray="3 3" shape-rendering="crispEdges"/>
<line x1="1188.5" y1="342" x2="1188.5" y2="411" stroke="#808080" stroke-dasharray="3 3" shape-rendering="crispEdges"/>
<line x1="1195.5" y1="342" x2="1195.5" y2="411" stroke="#808080" stroke-dasharray="3 3" shape-rendering="crispEdges"/>
<line x1="1201.5" y1="342" x2="1201.5" y2="411" stroke="#808080" stroke-dasharray="3 3" shape-rendering="crispEdges"/>
<line x1="1207.5" y1="342" x2="1207.5" y2="411" stroke="#808080" stroke-dasharray="3 3" shape-rendering="crispEdges"/>
<line x1="671" y1="353.5" x2="1212" y2="353.5" stroke="#808080" stroke-dasharray="3 3" shape-rendering="crispEdges"/>
<line x1="671" y1="364.5" x2="1212" y2="364.5" stroke="#808080" stroke-dasharray="3 3" shape-rendering="crispEdges"/>
<line x1="671" y1="376.5" x2="1212" y2="376.5" stroke="#808080" stroke-dasharray="3 3" shape-rendering="crispEdges"/>
<line x1="671" y1="388.5" x2="1212" y2="388.5" stroke="#808080" stroke-dasharray="3 3" shape-rendering="crispEdges"/>
<line x1="671" y1="399.5" x2="1212" y2="399.5" stroke="#808080" stroke-dasharray="3 3" shape-rendering="crispEdges"/>
<rect x="670.5" y="341.5" width="542" height="70" fill="none" stroke="#808080" shape-rendering="crispEdges"/>
<line x1="703.5" y1="446" x2="703.5" y2="509" stroke="#808080" stroke-dasharray="3 3" shape-rendering="crispEdges"/>
<line x1="722.5" y1="446" x2="722.5" y2="509" stroke="#808080" stroke-dasharray="3 3" shape-rendering="crispEdges"/>
<line x1="735.5" y1="446" x2="735.5" y2="509" stroke="#808080" stroke-dasharray="3 3" shape-rendering="crispEdges"/>
<line x1="746.5" y1="446" x2="746.5" y2="509" stroke="#808080" stroke-dasharray="3 3" shape-rendering="crispEdges"/>
<line x1="754.5" y1="446" x2="754.5" y2="509" stroke="#808080" stroke-dasharray="3 3" shape-rendering="crispEdges"/>
<line x1="762.5" y1="446" x2="762.5" y2="509" stroke="#808080" stroke-dasharray="3 3" shape-rendering="crispEdges"/>
<line x1="768.5" y1="446" x2="768.5" y2="509" stroke="#808080" stroke-dasharray="3 3" shape-rendering="crispEdges"/>
<line x1="773.5" y1="446" x2="773.5" y2="509" stroke="#808080" stroke-dasharray="3 3" shape-rendering="crispEdges"/>
<line x1="778.5" y1="446" x2="778.5" y2="509" stroke="#808080" stroke-dasharray="3 3" shape-rendering="crispEdges"/>
<line x1="811.5" y1="446" x2="811.5" y2="509" stroke="#808080" stroke-dasharray="3 3" shape-rendering="crispEdges"/>
<line x1="830.5" y1="446" x2="830.5" y2="509" stroke="#808080" stroke-dasharray="3 3" shape-rendering="crispEdges"/>
<line x1="844.5" y1="446" x2="844.5" y2="509" stroke="#808080" stroke-dasharray="3 3" shape-rendering="crispEdges"/>
<line x1="854.5" y1="446" x2="854.5" y2="509" stroke="#808080" stroke-dasharray="3 3" shape-rendering="crispEdges"/>
<line x1="863.5" y1="446" x2="863.5" y2="509" stroke="#808080" stroke-dasharray="3 3" shape-rendering="crispEdges"/>
<line x1="870.5" y1="446" x2="870.5" y2="509" stroke="#808080" stroke-dasharray="3 3" shape-rendering="crispEdges"/>
<line x1="876.5" y1="446" x2="876.5" y2="509" stroke="#808080" stroke-dasharray="3 3" shape-rendering="crispEdges"/>
<line x1="882.5" y1="446" x2="882.5" y2="509" stroke="#808080" stroke-dasharray="3 3" shape-rendering="crispEdges"/>
<line x1="887.5" y1="446" x2="887.5" y2="509" stroke="#808080" stroke-dasharray="3 3" shape-rendering="crispEdges"/>
<line x1="919.5" y1="446" x2="919.5" y2="509" stroke="#808080" stroke-dasharray="3 3" shape-rendering="crispEdges"/>
<line x1="939.5" y1="446" x2="939.5" y2="509" stroke="#808080" stroke-dasharray="3 3" shape-rendering="crispEdges"/>
<line x1="952.5" y1="446" x2="952.5" y2="509" stroke="#808080" stroke-dasharray="3 3" shape-rendering="crispEdges"/>
<line x1="963.5" y1="446" x2="963.5" y2="509" stroke="#808080" stroke-dasharray="3 3" shape-rendering="crispEdges"/>
<line x1="971.5" y1="446" x2="971.5" y2="509" stroke="#808080" stroke-dasharray="3 3" shape-rendering="crispEdges"/>
<line x1="978.5" y1="446" x2="978.5" y2="509" stroke="#808080" stroke-dasharray="3 3" shape-rendering="crispEdges"/>
<line x1="985.5" y1="446" x2="985.5" y2="509" stroke="#808080" stroke-dasharray="3 3" shape-rendering="crispEdges"/>
<line x1="990.5" y1="446" x2="990.5" y2="509" stroke="#808080" stroke-dasharray="3 3" shape-rendering="crispEdges"/>
<line x1="995.5" y1="446" x2="995.5" y2="509" stroke="#808080" stroke-dasharray="3 3" shape-rendering="crispEdges"/>
<line x1="1028.5" y1="446" x2="1028.5" y2="509" stroke="#808080" stroke-dasharray="3 3" shape-rendering="crispEdges"/>
<line x1="1047.5" y1="446" x2="1047.5" y2="509" stroke="#808080" stroke-dasharray="3 3" shape-rendering="crispEdges"/>
<line x1="1060.5" y1="446" x2="1060.5" y2="509" stroke="#808080" stroke-dasharray="3 3" shape-rendering="crispEdges"/>
<line x1="1071.5" y1="446" x2="1071.5" y2="509" stroke="#808080" stroke-dasharray="3 3" shape-rendering="crispEdges"/>
<line x1="1080.5" y1="446" x2="1080.5" y2="509" stroke="#808080" stroke-dasharray="3 3" shape-rendering="crispEdges"/>
<line x1="1087.5" y1="446" x2="1087.5" y2="509" stroke="#808080" stroke-dasharray="3 3" shape-rendering="crispEdges"/>
<line x1="1093.5" y1="446" x2="1093.5" y2="509" stroke="#808080" stroke-dasharray="3 3" shape-rendering="crispEdges"/>
<line x1="1099.5" y1="446" x2="1099.5" y2="509" stroke="#808080" stroke-dasharray="3 3" shape-rendering="crispEdges"/>
<line x1="1104.5" y1="446" x2="1104.5" y2="509" stroke="#808080" stroke-dasharray="3 3" shape-rendering="crispEdges"/>
<line x1="1136.5" y1="446" x2="1136.5" y2="509" stroke="#808080" stroke-dasharray="3 3" shape-rendering="crispEdges"/>
<line x1="1155.5" y1="446" x2="1155.5" y2="509" stroke="#808080" stroke-dasharray="3 3" shape-rendering="crispEdges"/>
<line x1="1169.5" y1="446" x2="1169.5" y2="509" stroke="#808080" stroke-dasharray="3 3" shape-rendering="crispEdges"/>
<line x1="1179.5" y1="446" x2="1179.5" y2="509" stroke="#808080" stroke-dasharray="3 3" shape-rendering="crispEdges"/>
<line x1="1188.5" y1="446" x2="1188.5" y2="509" stroke="#808080" stroke-dasharray="3 3" shape-rendering="crispEdges"/>
<line x1="1195.5" y1="446" x2="1195.5" y2="509" stroke="#808080" stroke-dasharray="3 3" shape-rendering="crispEdges"/>
<line x1="1201.5" y1="446" x2="1201.5" y2="509" stroke="#808080" stroke-dasharray="3 3" shape-rendering="crispEdges"/>
<line x1="1207.5" y1="446" x2="1207.5" y2="509" stroke="#808080" stroke-dasharray="3 3" shape-rendering="crispEdges"/>
<line x1="671" y1="454.5" x2="1212" y2="454.5" stroke="#808080" stroke-dasharray="3 3" shape-rendering="crispEdges"/>
<line x1="671" y1="463.5" x2="1212" y2="463.5" stroke="#808080" stroke-dasharray="3 3" shape-rendering="crispEdges"/>
<line x1="671" y1="472.5" x2="1212" y2="472.5" stroke="#808080" stroke-dasharray="3 3" shape-rendering="crispEdges"/>
<line x1="671" y1="482.5" x2="1212" y2="482.5" stroke="#808080" stroke-dasharray="3 3" shape-rendering="crispEdges"/>
<line x1="671" y1="491.5" x2="1212" y2="491.5" stroke="#808080" stroke-dasharray="3 3" shape-rendering="crispEdges"/>
<line x1="671" y1="500.5" x2="1212" y2="500.5" stroke="#808080" stroke-dasharray="3 3" shape-rendering="crispEdges"/>
<rect x="670.5" y="445.5" width="542" height="64" fill="none" stroke="#808080" shape-rendering="crispEdges"/>
<text x="668.4" y="137.8" fill="#0000ff" font-size="10" text-anchor="end" letter-spacing="0.26">6.000</text>
<text x="668.4" y="160.8" fill="#0000ff" font-size="10" text-anchor="end" letter-spacing="0.26">0.000</text>
<text x="668.4" y="184.8" fill="#0000ff" font-size="10" text-anchor="end" letter-spacing="0.26">-6.000</text>
<text x="668.4" y="207.8" fill="#0000ff" font-size="10" text-anchor="end" letter-spacing="0.26">-12.000</text>
<text x="668.4" y="241.8" fill="#0000ff" font-size="10" text-anchor="end" letter-spacing="0.26">90.000</text>
<text x="668.4" y="264.8" fill="#0000ff" font-size="10" text-anchor="end" letter-spacing="0.26">45.000</text>
<text x="668.4" y="288.8" fill="#0000ff" font-size="10" text-anchor="end" letter-spacing="0.26">0.000</text>
<text x="668.4" y="311.8" fill="#0000ff" font-size="10" text-anchor="end" letter-spacing="0.26">-45.000</text>
<text x="668.4" y="345.8" fill="#0000ff" font-size="10" text-anchor="end" letter-spacing="0.26">5.000m</text>
<text x="668.4" y="368.8" fill="#0000ff" font-size="10" text-anchor="end" letter-spacing="0.26">3.000m</text>
<text x="668.4" y="392.8" fill="#0000ff" font-size="10" text-anchor="end" letter-spacing="0.26">1.000m</text>
<text x="668.4" y="415.8" fill="#0000ff" font-size="10" text-anchor="end" letter-spacing="0.26">-1.000m</text>
<text x="668.4" y="449.8" fill="#0000ff" font-size="10" text-anchor="end" letter-spacing="0.26">5.000u</text>
<text x="668.4" y="476.8" fill="#0000ff" font-size="10" text-anchor="end" letter-spacing="0.26">2.000u</text>
<text x="668.4" y="495.8" fill="#0000ff" font-size="10" text-anchor="end" letter-spacing="0.26">0.000u</text>
<text x="668.4" y="513.8" fill="#0000ff" font-size="10" text-anchor="end" letter-spacing="0.26">-2.000u</text>
<text x="670" y="214.8" fill="#0000ff" font-size="10" >1</text>
<text x="779.0" y="214.8" fill="#0000ff" font-size="10" text-anchor="middle" letter-spacing="0.22">10</text>
<text x="887.4" y="214.8" fill="#0000ff" font-size="10" text-anchor="middle" letter-spacing="0.22">100</text>
<text x="995.8000000000001" y="214.8" fill="#0000ff" font-size="10" text-anchor="middle" letter-spacing="0.22">1K</text>
<text x="1104.1999999999998" y="214.8" fill="#0000ff" font-size="10" text-anchor="middle" letter-spacing="0.22">10K</text>
<text x="1212.6" y="214.8" fill="#0000ff" font-size="10" text-anchor="middle" letter-spacing="0.22">100K</text>
<text x="670" y="318.8" fill="#0000ff" font-size="10" >1</text>
<text x="779.0" y="318.8" fill="#0000ff" font-size="10" text-anchor="middle" letter-spacing="0.22">10</text>
<text x="887.4" y="318.8" fill="#0000ff" font-size="10" text-anchor="middle" letter-spacing="0.22">100</text>
<text x="995.8000000000001" y="318.8" fill="#0000ff" font-size="10" text-anchor="middle" letter-spacing="0.22">1K</text>
<text x="1104.1999999999998" y="318.8" fill="#0000ff" font-size="10" text-anchor="middle" letter-spacing="0.22">10K</text>
<text x="1212.6" y="318.8" fill="#0000ff" font-size="10" text-anchor="middle" letter-spacing="0.22">100K</text>
<text x="670" y="422.8" fill="#0000ff" font-size="10" >1</text>
<text x="779.0" y="422.8" fill="#0000ff" font-size="10" text-anchor="middle" letter-spacing="0.22">10</text>
<text x="887.4" y="422.8" fill="#0000ff" font-size="10" text-anchor="middle" letter-spacing="0.22">100</text>
<text x="995.8000000000001" y="422.8" fill="#0000ff" font-size="10" text-anchor="middle" letter-spacing="0.22">1K</text>
<text x="1104.1999999999998" y="422.8" fill="#0000ff" font-size="10" text-anchor="middle" letter-spacing="0.22">10K</text>
<text x="1212.6" y="422.8" fill="#0000ff" font-size="10" text-anchor="middle" letter-spacing="0.22">100K</text>
<text x="670" y="520.8" fill="#0000ff" font-size="10" >1</text>
<text x="779.0" y="520.8" fill="#0000ff" font-size="10" text-anchor="middle" letter-spacing="0.22">10</text>
<text x="887.4" y="520.8" fill="#0000ff" font-size="10" text-anchor="middle" letter-spacing="0.22">100</text>
<text x="995.8000000000001" y="520.8" fill="#0000ff" font-size="10" text-anchor="middle" letter-spacing="0.22">1K</text>
<text x="1104.1999999999998" y="520.8" fill="#0000ff" font-size="10" text-anchor="middle" letter-spacing="0.22">10K</text>
<text x="1212.6" y="520.8" fill="#0000ff" font-size="10" text-anchor="middle" letter-spacing="0.22">100K</text>
<text x="940.5" y="130" fill="#0000ff" font-size="10" textLength="213" lengthAdjust="spacingAndGlyphs" text-anchor="middle" >LME49860_Passively_RIAA_2kHz-square.CIR</text>
<text x="670" y="227.5" fill="#0000ff" font-size="10" textLength="44" lengthAdjust="spacingAndGlyphs" >db(v(out))</text>
<rect x="670" y="228" width="44" height="1" fill="#0000ff" />
<text x="670" y="331.5" fill="#ff0000" font-size="10" textLength="91" lengthAdjust="spacingAndGlyphs" >ph(v(out)) (Degrees)</text>
<text x="670" y="435.5" fill="#000" font-size="10" textLength="47" lengthAdjust="spacingAndGlyphs" >GD(v(out))</text>
<text x="670" y="533" fill="#000" font-size="10" textLength="47" lengthAdjust="spacingAndGlyphs" >GD(v(out))</text>
<text x="876" y="546" fill="#0000ff" font-size="10" textLength="27" lengthAdjust="spacingAndGlyphs" >F (Hz)</text>
<rect x="671" y="156" width="541" height="1" fill="#0000ff" />
<rect x="671" y="284" width="541" height="1" fill="#0000ff" />
<rect x="671" y="491" width="541" height="1" fill="#0000ff" />
<rect x="671" y="189" width="133" height="3" fill="#0000ff" />
<rect x="804" y="188" width="377" height="3" fill="#0000ff" />
<rect x="1181" y="189" width="26" height="3" fill="#0000ff" />
<rect x="1207" y="190" width="6" height="3" fill="#0000ff" />
<rect x="671" y="283" width="165" height="3" fill="#ff0000" />
<rect x="836" y="282" width="21" height="3" fill="#ff0000" />
<rect x="857" y="283" width="237" height="3" fill="#ff0000" />
<rect x="1094" y="284" width="32" height="3" fill="#ff0000" />
<rect x="1126" y="285" width="20" height="3" fill="#ff0000" />
<rect x="1146" y="286" width="14" height="3" fill="#ff0000" />
<rect x="1160" y="287" width="11" height="3" fill="#ff0000" />
<rect x="1171" y="288" width="9" height="3" fill="#ff0000" />
<rect x="1180" y="289" width="8" height="3" fill="#ff0000" />
<rect x="1188" y="290" width="7" height="3" fill="#ff0000" />
<rect x="1195" y="291" width="6" height="3" fill="#ff0000" />
<rect x="1201" y="292" width="4" height="3" fill="#ff0000" />
<rect x="1205" y="293" width="5" height="3" fill="#ff0000" />
<rect x="1210" y="294" width="3" height="3" fill="#ff0000" />
<rect x="671" y="399" width="155" height="3" fill="#000" />
<rect x="826" y="398" width="387" height="3" fill="#000" />
<clipPath id="p4"><rect x="671" y="446" width="542" height="63"/></clipPath>
<path clip-path="url(#p4)" d="M843.3 511 L857 441 M915.5 440.5 L919 445 L928 455.6 L938.8 468.8 L949.6 480.2 L960.4 489.2 L967.6 494 L974.8 496.4 L982 497.4 L990.4 497 L1000 494.6 L1012 491.6 L1024 488.6 L1036 486.4 L1044 485.2 L1052 484.5 L1100 484.5 L1101 485.5 L1214 485.5" fill="none" stroke="#000" stroke-width="3" stroke-linejoin="round"/>
<pattern id="chk" width="2" height="2" patternUnits="userSpaceOnUse"><rect width="2" height="2" fill="#ffffff"/><rect width="1" height="1" fill="#f0f0f0"/><rect x="1" y="1" width="1" height="1" fill="#f0f0f0"/></pattern>
<rect x="592" y="116" width="16" height="449" fill="#ffffff" />
<rect x="592" y="137" width="16" height="428" fill="url(#chk)" />
<rect x="592" y="120" width="16" height="18" fill="#696969" />
<rect x="592" y="120" width="15" height="17" fill="#e3e3e3" />
<rect x="593" y="121" width="14" height="16" fill="#a0a0a0" />
<rect x="593" y="121" width="13" height="15" fill="#ffffff" />
<rect x="594" y="122" width="12" height="14" fill="#f0f0f0" />
<path d="M596.5 130.75 L603.5 130.75 L600 127.25 Z" fill="#000"/>
<rect x="592" y="138" width="16" height="83" fill="#696969" />
<rect x="592" y="138" width="15" height="82" fill="#e3e3e3" />
<rect x="593" y="139" width="14" height="81" fill="#a0a0a0" />
<rect x="593" y="139" width="13" height="80" fill="#ffffff" />
<rect x="594" y="140" width="12" height="79" fill="#f0f0f0" />
<rect x="592" y="549" width="16" height="16" fill="#696969" />
<rect x="592" y="549" width="15" height="15" fill="#e3e3e3" />
<rect x="593" y="550" width="14" height="14" fill="#a0a0a0" />
<rect x="593" y="550" width="13" height="13" fill="#ffffff" />
<rect x="594" y="551" width="12" height="12" fill="#f0f0f0" />
<path d="M596.5 555.25 L603.5 555.25 L600 558.75 Z" fill="#000"/>
<rect x="434" y="565" width="175" height="16" fill="url(#chk)" />
<rect x="593" y="565" width="16" height="16" fill="#f0f0f0" />
<rect x="438" y="565" width="16" height="16" fill="#696969" />
<rect x="438" y="565" width="15" height="15" fill="#e3e3e3" />
<rect x="439" y="566" width="14" height="14" fill="#a0a0a0" />
<rect x="439" y="566" width="13" height="13" fill="#ffffff" />
<rect x="440" y="567" width="12" height="12" fill="#f0f0f0" />
<path d="M447.75 569.5 L447.75 576.5 L444.25 573 Z" fill="#000"/>
<rect x="454" y="565" width="33" height="16" fill="#696969" />
<rect x="454" y="565" width="32" height="15" fill="#e3e3e3" />
<rect x="455" y="566" width="31" height="14" fill="#a0a0a0" />
<rect x="455" y="566" width="30" height="13" fill="#ffffff" />
<rect x="456" y="567" width="29" height="12" fill="#f0f0f0" />
<rect x="577" y="565" width="16" height="16" fill="#696969" />
<rect x="577" y="565" width="15" height="15" fill="#e3e3e3" />
<rect x="578" y="566" width="14" height="14" fill="#a0a0a0" />
<rect x="578" y="566" width="13" height="13" fill="#ffffff" />
<rect x="579" y="567" width="12" height="12" fill="#f0f0f0" />
<path d="M583.25 569.5 L583.25 576.5 L586.75 573 Z" fill="#000"/>
<rect x="434" y="565" width="4" height="16" fill="#f0f0f0" />
<rect x="434" y="566" width="1" height="15" fill="#696969" />
<rect x="435" y="566" width="1" height="15" fill="#ffffff" />
<rect x="436" y="566" width="1" height="15" fill="#a0a0a0" />
<rect x="7" y="565" width="427" height="16" fill="#f0f0f0" />
<rect x="7" y="565" width="4" height="15" fill="#ffffff" />
<rect x="8" y="566" width="1" height="14" fill="#e3e3e3" />
<rect x="5" y="580" width="429" height="1" fill="#696969" />
<rect x="11" y="565" width="80" height="16" fill="#696969" />
<rect x="12" y="566" width="14" height="14" fill="#a0a0a0" />
<rect x="12" y="566" width="13" height="13" fill="#ffffff" />
<rect x="13" y="567" width="12" height="12" fill="#f0f0f0" />
<rect x="28" y="566" width="14" height="14" fill="#a0a0a0" />
<rect x="28" y="566" width="13" height="13" fill="#ffffff" />
<rect x="29" y="567" width="12" height="12" fill="#f0f0f0" />
<rect x="44" y="566" width="14" height="14" fill="#a0a0a0" />
<rect x="44" y="566" width="13" height="13" fill="#ffffff" />
<rect x="45" y="567" width="12" height="12" fill="#f0f0f0" />
<rect x="60" y="566" width="14" height="14" fill="#a0a0a0" />
<rect x="60" y="566" width="13" height="13" fill="#ffffff" />
<rect x="61" y="567" width="12" height="12" fill="#f0f0f0" />
<rect x="76" y="566" width="14" height="14" fill="#a0a0a0" />
<rect x="76" y="566" width="13" height="13" fill="#ffffff" />
<rect x="77" y="567" width="12" height="12" fill="#f0f0f0" />
<path d="M16 573.5 h6 l-3 3z" fill="#000"/>
<rect x="31" y="569" width="1.6" height="9" fill="#000"/><path d="M38 568.5 v9 l-5 -4.5z" fill="#000"/>
<path d="M53 568.5 v9 l-5 -4.5z" fill="#000"/>
<path d="M65 568.5 v9 l5 -4.5z" fill="#000"/>
<path d="M80 568.5 v9 l5 -4.5z" fill="#000"/><rect x="85.4" y="569" width="1.6" height="9" fill="#000"/>
<rect x="135" y="565" width="299" height="1" fill="#000" />
<path d="M92 565 L99 580.5 L128 580.5 L135 565 Z" fill="#ffffff"/>
<path d="M163 565.5 L169 580.5 M161 580.5 L165.5 572" stroke="#000" stroke-width="1" fill="none"/>
<path d="M212 565.5 L218 580.5 M210 580.5 L214.5 572" stroke="#000" stroke-width="1" fill="none"/>
<path d="M309 565.5 L315 580.5 M307 580.5 L311.5 572" stroke="#000" stroke-width="1" fill="none"/>
<path d="M132 572 L135.5 580.5 M92 565 L99 580.5 M128 580.5 L135 565.5 M338 580.5 L345 565.5" stroke="#000" stroke-width="1" fill="none"/>
<rect x="345" y="566" width="89" height="14" fill="#f0f0f0" />
<rect x="339" y="580" width="95" height="1" fill="#f0f0f0" />
<text x="100.5" y="577" fill="#000" font-size="12" textLength="26" lengthAdjust="spacingAndGlyphs" font-weight="bold" >Main</text>
<text x="139" y="577" fill="#000" font-size="12" textLength="18.5" lengthAdjust="spacingAndGlyphs" >Text</text>
<text x="173.4" y="577" fill="#000" font-size="12" textLength="32.8" lengthAdjust="spacingAndGlyphs" >Models</text>
<text x="226.5" y="577" fill="#000" font-size="12" textLength="71.2" lengthAdjust="spacingAndGlyphs" >Power Supplies</text>
<text x="317.6" y="577" fill="#000" font-size="12" textLength="16.4" lengthAdjust="spacingAndGlyphs" >Info</text>
<rect x="622" y="560" width="618" height="16" fill="#f0f0f0" />
<rect x="622" y="576" width="618" height="1" fill="#f0f0f0" />
<rect x="622" y="560" width="6" height="16" fill="#ffffff" />
<rect x="623" y="561" width="1" height="15" fill="#e3e3e3" />
<rect x="620" y="576" width="88" height="1" fill="#696969" />
<rect x="628" y="560" width="80" height="16" fill="#696969" />
<rect x="629" y="561" width="14" height="14" fill="#a0a0a0" />
<rect x="629" y="561" width="13" height="13" fill="#ffffff" />
<rect x="630" y="562" width="12" height="12" fill="#f0f0f0" />
<rect x="645" y="561" width="14" height="14" fill="#a0a0a0" />
<rect x="645" y="561" width="13" height="13" fill="#ffffff" />
<rect x="646" y="562" width="12" height="12" fill="#f0f0f0" />
<rect x="661" y="561" width="14" height="14" fill="#a0a0a0" />
<rect x="661" y="561" width="13" height="13" fill="#ffffff" />
<rect x="662" y="562" width="12" height="12" fill="#f0f0f0" />
<rect x="677" y="561" width="14" height="14" fill="#a0a0a0" />
<rect x="677" y="561" width="13" height="13" fill="#ffffff" />
<rect x="678" y="562" width="12" height="12" fill="#f0f0f0" />
<rect x="693" y="561" width="14" height="14" fill="#a0a0a0" />
<rect x="693" y="561" width="13" height="13" fill="#ffffff" />
<rect x="694" y="562" width="12" height="12" fill="#f0f0f0" />
<path d="M633 568.5 h6 l-3 3z" fill="#000"/>
<rect x="648" y="564" width="1.6" height="9" fill="#000"/><path d="M655 563.5 v9 l-5 -4.5z" fill="#000"/>
<path d="M670 563.5 v9 l-5 -4.5z" fill="#000"/>
<path d="M682 563.5 v9 l5 -4.5z" fill="#000"/>
<path d="M697 563.5 v9 l5 -4.5z" fill="#000"/><rect x="702.4" y="564" width="1.6" height="9" fill="#000"/>
<rect x="758" y="560" width="464" height="1" fill="#000" />
<path d="M709 560 L716.5 575.5 L749.5 575.5 L757 560 Z" fill="#ffffff"/>
<path d="M709.3 560.3 L716.7 575.5 M749.5 575.5 L757 560.5" stroke="#000" stroke-width="1.1" fill="none"/>
<rect x="717" y="575" width="33" height="1" fill="#a0a0a0" />
<text x="717.6" y="572" fill="#000" font-size="12.5" textLength="30.4" lengthAdjust="spacingAndGlyphs" font-weight="bold" >MAIN</text>
<rect x="1222" y="561" width="17" height="6" fill="#696969" />
<rect x="1222" y="561" width="16" height="5" fill="#e3e3e3" />
<rect x="1223" y="562" width="15" height="4" fill="#a0a0a0" />
<rect x="1223" y="562" width="14" height="3" fill="#ffffff" />
<rect x="1224" y="563" width="13" height="2" fill="#f0f0f0" />
<pattern id="chk2" width="2" height="2" patternUnits="userSpaceOnUse"><rect width="2" height="2" fill="#fbfbfb"/><rect width="1" height="1" fill="#e6e6e6"/><rect x="1" y="1" width="1" height="1" fill="#e6e6e6"/></pattern>
<radialGradient id="cgrad" cx="0.35" cy="0.3" r="0.75"><stop offset="0" stop-color="#ffffff"/><stop offset="0.5" stop-color="#cfe0f7"/><stop offset="1" stop-color="#4f86d8"/></radialGradient>
<rect x="8" y="32" width="23" height="22" fill="#f0f0f0" />
<rect x="10" y="34" width="19" height="2" fill="url(#chk)" />
<rect x="10" y="34" width="2" height="18" fill="url(#chk)" />
<rect x="10" y="51" width="19" height="1" fill="url(#chk)" />
<rect x="28" y="34" width="1" height="18" fill="url(#chk)" />
<rect x="8" y="32" width="23" height="1" fill="#a0a0a0" />
<rect x="8" y="32" width="1" height="22" fill="#a0a0a0" />
<rect x="8" y="53" width="23" height="1" fill="#ffffff" />
<rect x="30" y="32" width="1" height="22" fill="#ffffff" />
<g transform="translate(15,36)"><path d="M1.5 0.5 L1.5 12.5 L4.5 9.5 L7 14.5 L9 13.5 L6.8 8.8 L10.5 8.8 Z" fill="#fff" stroke="#47699b" stroke-width="1"/></g>
<g transform="translate(35,37)"><path d="M3.5 11.5 Q1.2 9.5 1.2 8 Q1.5 6.8 3 7.6 L3.8 8.4 V3 Q3.9 1.8 5 1.8 Q6 1.9 6.1 3 V1.6 Q6.2 0.5 7.3 0.5 Q8.4 0.5 8.5 1.6 V2.2 Q8.6 1.2 9.7 1.3 Q10.8 1.5 10.8 2.7 V4 Q11 3.2 11.9 3.3 Q12.8 3.5 12.8 4.8 V8.5 Q12.8 11.5 10.5 12.3 H6 Q4.5 12.3 3.5 11.5 Z" fill="#fbfbfb" stroke="#5e5e5e" stroke-width="1"/><path d="M6.1 3 V6.5 M8.5 2 V6.5 M10.8 3.5 V7" stroke="#8a8a8a" stroke-width="0.9"/></g>
<g transform="translate(57,39)"><path d="M0.5 4 L2.5 1.5 L6.5 5.5 L10.5 1.5 L14.5 5.5 L16 4" fill="none" stroke="#000" stroke-width="1.3"/></g>
<g transform="translate(82,36)"><path d="M0.5 0.5 H12 V4.5 H10.5 L10 2.5 H7.8 V11 L9.5 11.3 V12.5 H3 V11.3 L4.7 11 V2.5 H2.5 L2 4.5 H0.5 Z" fill="#000"/></g>
<g transform="translate(103,36)"><rect x="0" y="4" width="3" height="3" fill="#000"/><path d="M3 6.5 H5.5 V11.5 H15" fill="none" stroke="#1f4e8c" stroke-width="1"/><path d="M6 9 L13 3 L15 5 L8 11 L5.5 12.5 Z" fill="#f4d03f" stroke="#8a6d1d" stroke-width="0.8"/><path d="M13 3 L14.2 1.8 L16.2 3.8 L15 5 Z" fill="#e07060"/></g>
<g transform="translate(126,36)"><rect x="0" y="3" width="3" height="3" fill="#000"/><path d="M2 5 L11 14" stroke="#1f4e8c" stroke-width="1"/><path d="M6 8 L13 1 L15 3 L8 10 L5.5 10.5 Z" fill="#f4d03f" stroke="#8a6d1d" stroke-width="0.8"/><path d="M13 1 L14 0 L16 2 L15 3 Z" fill="#e07060"/></g>
<g transform="translate(149,35)"><rect x="0.5" y="0.5" width="15" height="13" rx="2" fill="#f2c12e" stroke="#8a6a10"/><rect x="2" y="2.5" width="12" height="6" fill="#9ec4ea" stroke="#4a6a9a" stroke-width="0.8"/><rect x="1" y="10" width="14" height="2" fill="#222"/><rect x="1" y="13.5" width="3" height="1.5" fill="#222"/><rect x="12" y="13.5" width="3" height="1.5" fill="#222"/></g>
<g transform="translate(172,35)"><circle cx="11" cy="5.5" r="5" fill="#d7e8fb" stroke="#3f74c4"/><rect x="0.5" y="3.5" width="9" height="8" fill="#bcd6f5" stroke="#3f74c4"/><path d="M5 9 V14 A3 1.3 0 0 0 11 14 V9 A3 1.3 0 0 0 5 9 Z" fill="#e6f0fc" stroke="#3f74c4"/></g>
<path d="M196 42 h7 l-3.5 4z" fill="#000"/>
<g transform="translate(211,35)"><ellipse cx="4" cy="2" rx="3.3" ry="1.8" fill="#e4eefb" stroke="#4a72b8"/><ellipse cx="4" cy="13.5" rx="3.3" ry="1.8" fill="#e4eefb" stroke="#4a72b8"/><path d="M4 5 L6.5 7.7 L4 10.4 L1.5 7.7 Z" fill="#e4eefb" stroke="#4a72b8"/><path d="M4 3.8 V5 M4 10.4 V11.7 M6.5 7.7 H8" stroke="#4a72b8"/><rect x="8.5" y="5.5" width="5" height="4.5" fill="#e4eefb" stroke="#4a72b8"/></g>
<path d="M234 42 h7 l-3.5 4z" fill="#000"/>
<g transform="translate(248,35)"><rect x="0" y="0" width="16" height="15" fill="#111"/><rect x="0" y="0" width="16" height="1" fill="#8fb0d8"/><rect x="2" y="3" width="5" height="1" fill="#fff"/><rect x="9" y="3" width="5" height="1" fill="#fff"/><rect x="2" y="5" width="5" height="1" fill="#fff"/><rect x="9" y="5" width="5" height="1" fill="#fff"/><rect x="2" y="7" width="5" height="1" fill="#fff"/><rect x="9" y="7" width="5" height="1" fill="#fff"/><rect x="2" y="9" width="5" height="1" fill="#fff"/><rect x="9" y="9" width="5" height="1" fill="#fff"/><rect x="2" y="11" width="5" height="1" fill="#fff"/><rect x="9" y="11" width="5" height="1" fill="#fff"/><rect x="2" y="13" width="5" height="1" fill="#fff"/><rect x="9" y="13" width="5" height="1" fill="#fff"/></g>
<g transform="translate(271,37)"><path d="M0.5 12 L8 4.5" stroke="#3a62b0" stroke-width="1.4"/><path d="M6 5 Q9 2 12 5 Q14 7 16 5 L15 9 Q12 11 10 9 Q8 8 7 10 Z" fill="#7fa3e0" stroke="#3a62b0" stroke-width="0.8"/><path d="M6 9 Q9 7 11 10 Q13 12 15 10 L14 13 Q11 14 9 12 Z" fill="#6a90d6"/></g>
<g transform="translate(294,35)"><defs><radialGradient id="gi" cx="0.4" cy="0.35" r="0.7"><stop offset="0" stop-color="#7ea3e6"/><stop offset="1" stop-color="#3c66bb"/></radialGradient></defs><circle cx="8" cy="8" r="7.6" fill="url(#gi)"/><rect x="6.7" y="6.5" width="2.8" height="6" fill="#fff"/><rect x="5.8" y="11.5" width="4.6" height="1.2" fill="#fff"/><circle cx="8.1" cy="4" r="1.5" fill="#fff"/></g>
<g transform="translate(317,35)"><rect x="0.5" y="0.5" width="15" height="14" fill="#f4f8fd" stroke="#3a5f9c"/><rect x="1" y="1" width="14" height="2" fill="#4f7bc6"/><circle cx="8" cy="9" r="4.2" fill="#2f5fb8"/><text x="8" y="11.3" font-size="6.5" font-weight="bold" fill="#fff" text-anchor="middle">?</text></g>
<g transform="translate(340,35)"><rect x="0.5" y="0.5" width="7" height="9" fill="#fff" stroke="#7c8ea8"/><path d="M2 3h4M2 5h4M2 7h3" stroke="#6d8fc8"/><circle cx="10.5" cy="6.5" r="5" fill="#3aa13a"/><path d="M7 4 Q10 3 12 6 Q13 8 15 7 L15 9 Q12 11 9 9 Z" fill="#3c78d8"/><ellipse cx="9" cy="13" rx="2.7" ry="1.8" fill="none" stroke="#555" stroke-width="1.1"/><ellipse cx="13" cy="13" rx="2.7" ry="1.8" fill="none" stroke="#555" stroke-width="1.1"/></g>
<g transform="translate(365,36)"><rect x="0" y="0" width="12" height="12" fill="#808080"/><rect x="1.5" y="1.5" width="10.5" height="10.5" fill="#fff"/><path d="M3.2 6.5 L5.5 9 L10 3.2" fill="none" stroke="#000" stroke-width="2"/></g>
<g transform="translate(386,35)"><rect x="0.5" y="0.5" width="15" height="14" fill="#e6eef9" stroke="#4a6796"/><path d="M2 4.5 H8 M2 9.5 H8" stroke="#2e4e86" stroke-width="1.5"/><path d="M9 4 L11 6 L15 1" fill="none" stroke="#1a9a1a" stroke-width="1.4"/><circle cx="11.5" cy="10.5" r="3.3" fill="#e2401d" stroke="#fff" stroke-width="0.8"/><path d="M10 12 L13 9" stroke="#fff" stroke-width="1"/></g>
<g transform="translate(410,37)"><rect x="0.5" y="0.5" width="13" height="11" fill="#e4f6fb" stroke="#d07a1e" stroke-width="1.2"/><path d="M0.5 4.3 H13.5 M0.5 8 H13.5" stroke="#d07a1e" stroke-width="1.2"/></g>
<g transform="translate(432,35)"><path d="M0.5 0.5 H9 L12 3.5 V14.5 H0.5 Z" fill="#f4f8fd" stroke="#4a6796"/><path d="M3 3 v1 M5 3 v1 M7 3 v1 M4 5 v1 M6 5 v1" stroke="#6688c8"/><path d="M3.5 7 V11 M2 9.5 L3.5 11.5 L5 9.5" stroke="#2a6be0" stroke-width="1.3" fill="none"/><path d="M6 13 L13 5 L15 7 L8 14.5 Z" fill="#f4d03f" stroke="#7a5d10" stroke-width="0.8"/><path d="M13 5 L14 4 L16 6 L15 7 Z" fill="#e07060"/></g>
<rect x="454" y="34" width="1" height="20" fill="#a0a0a0" />
<rect x="455" y="34" width="1" height="20" fill="#ffffff" />
<rect x="8" y="60" width="22" height="22" fill="#f0f0f0" />
<rect x="10" y="62" width="18" height="2" fill="url(#chk)" />
<rect x="10" y="62" width="2" height="18" fill="url(#chk)" />
<rect x="10" y="79" width="18" height="1" fill="url(#chk)" />
<rect x="27" y="62" width="1" height="18" fill="url(#chk)" />
<rect x="8" y="60" width="22" height="1" fill="#a0a0a0" />
<rect x="8" y="60" width="1" height="22" fill="#a0a0a0" />
<rect x="8" y="81" width="22" height="1" fill="#ffffff" />
<rect x="29" y="60" width="1" height="22" fill="#ffffff" />
<g transform="translate(13,62)"><path d="M1 3.2 Q2.5 1.7 5 2.4" stroke="#111" stroke-width="1.2" fill="none"/><rect x="1.3" y="3.1" width="4.6" height="3.4" rx="1.3" fill="#a6cef7" stroke="#222" stroke-width="1.05"/><rect x="8.3" y="3.1" width="4.6" height="3.4" rx="1.3" fill="#a6cef7" stroke="#222" stroke-width="1.05"/><path d="M6 4.5 H8.2" stroke="#222" stroke-width="1.2"/><path d="M13 4.5 L13.8 1.2" stroke="#222" stroke-width="1.1"/><rect x="2.2" y="4" width="1.5" height="1.2" fill="#fff"/><rect x="9.2" y="4" width="1.5" height="1.2" fill="#fff"/><text x="3.6" y="15.8" font-family="Liberation Serif" font-weight="bold" font-size="10" fill="#1c2f8c">A</text></g>
<rect x="31" y="60" width="22" height="22" fill="#f0f0f0" />
<rect x="33" y="62" width="18" height="2" fill="url(#chk)" />
<rect x="33" y="62" width="2" height="18" fill="url(#chk)" />
<rect x="33" y="79" width="18" height="1" fill="url(#chk)" />
<rect x="50" y="62" width="1" height="18" fill="url(#chk)" />
<rect x="31" y="60" width="22" height="1" fill="#a0a0a0" />
<rect x="31" y="60" width="1" height="22" fill="#a0a0a0" />
<rect x="31" y="81" width="22" height="1" fill="#ffffff" />
<rect x="52" y="60" width="1" height="22" fill="#ffffff" />
<g transform="translate(36,62)"><path d="M1 3.2 Q2.5 1.7 5 2.4" stroke="#111" stroke-width="1.2" fill="none"/><rect x="1.3" y="3.1" width="4.6" height="3.4" rx="1.3" fill="#a6cef7" stroke="#222" stroke-width="1.05"/><rect x="8.3" y="3.1" width="4.6" height="3.4" rx="1.3" fill="#a6cef7" stroke="#222" stroke-width="1.05"/><path d="M6 4.5 H8.2" stroke="#222" stroke-width="1.2"/><path d="M13 4.5 L13.8 1.2" stroke="#222" stroke-width="1.1"/><rect x="2.2" y="4" width="1.5" height="1.2" fill="#fff"/><rect x="9.2" y="4" width="1.5" height="1.2" fill="#fff"/><text x="-1.2" y="15.8" font-family="Liberation Serif" font-weight="bold" font-size="10" fill="#1c2f8c">A</text><path d="M7 12.5 L8.5 11 L10 12.5 L11.5 11 L13 12.5 L14.5 11 L16 12.5" stroke="#1a2a7a" fill="none"/></g>
<g transform="translate(58,63)"><path d="M1 1.2 Q2.5 -0.3 5 0.4" stroke="#111" stroke-width="1.2" fill="none"/><rect x="1.3" y="1.1" width="4.6" height="3.4" rx="1.3" fill="#a6cef7" stroke="#222" stroke-width="1.05"/><rect x="8.3" y="1.1" width="4.6" height="3.4" rx="1.3" fill="#a6cef7" stroke="#222" stroke-width="1.05"/><path d="M6 2.5 H8.2" stroke="#222" stroke-width="1.2"/><path d="M13 2.5 L13.8 -0.8" stroke="#222" stroke-width="1.1"/><rect x="2.2" y="2" width="1.5" height="1.2" fill="#fff"/><rect x="9.2" y="2" width="1.5" height="1.2" fill="#fff"/><rect x="0.5" y="6.5" width="8" height="8" rx="1" fill="#fff" stroke="#244a7e" stroke-width="1.2"/><text x="1.6" y="13.6" font-size="7.5" font-weight="bold" fill="#000">N</text><circle cx="11" cy="10.5" r="1.5" fill="#e00"/><path d="M9 10.5 H15" stroke="#e00"/></g>
<g transform="translate(80,63)"><rect x="1" y="1" width="6" height="5" fill="#e0e0e0" stroke="#b4b4b4"/><rect x="3" y="4" width="6" height="5" fill="#d8d8d8" stroke="#b4b4b4"/><path d="M7 2 L7 11 L9 9 L11 13 L12 12 L10 8 L13 8 Z" fill="#e8e8e8" stroke="#a8a8a8" stroke-width="0.8"/><rect x="8" y="10" width="7" height="5" fill="#d0d0d0" stroke="#b0b0b0"/></g>
<path d="M104 70 h7 l-3.5 4z" fill="#9a9a9a"/>
<g transform="translate(119,63)"><path d="M1 1.2 Q2.5 -0.3 5 0.4" stroke="#111" stroke-width="1.2" fill="none"/><rect x="1.3" y="1.1" width="4.6" height="3.4" rx="1.3" fill="#a6cef7" stroke="#222" stroke-width="1.05"/><rect x="8.3" y="1.1" width="4.6" height="3.4" rx="1.3" fill="#a6cef7" stroke="#222" stroke-width="1.05"/><path d="M6 2.5 H8.2" stroke="#222" stroke-width="1.2"/><path d="M13 2.5 L13.8 -0.8" stroke="#222" stroke-width="1.1"/><rect x="2.2" y="2" width="1.5" height="1.2" fill="#fff"/><rect x="9.2" y="2" width="1.5" height="1.2" fill="#fff"/><rect x="0.5" y="6.5" width="8" height="8" rx="1" fill="#fff" stroke="#a02020" stroke-width="1.2"/><text x="1.8" y="13.6" font-size="7.5" font-weight="bold" fill="#000">V</text><circle cx="11" cy="10.5" r="1.5" fill="#e00"/><path d="M9 10.5 H15" stroke="#e00"/></g>
<g transform="translate(141,63)"><path d="M0 4.5 H12" stroke="#4a6ea8" stroke-width="1.4"/><path d="M11 1.5 L15.5 4.5 L11 7.5 Z" fill="#4a6ea8"/><path d="M0 11.5 H15" stroke="#000" stroke-width="1.6"/><path d="M5 8.5 L5 14.5 L9.5 11.5 Z" fill="#000"/><path d="M10 8.5 V14.5" stroke="#000" stroke-width="1.6"/></g>
<g transform="translate(165,63)"><path d="M8 0 H13.5 L10.5 4 H13 L6.5 10.5 L8.5 5.5 H6 Z" fill="#f5d132" stroke="#b8900c" stroke-width="0.7"/><path d="M0 11.5 H15" stroke="#000" stroke-width="1.6"/><path d="M5 8.5 L5 14.5 L9.5 11.5 Z" fill="#000"/><path d="M10 8.5 V14.5" stroke="#000" stroke-width="1.6"/></g>
<g transform="translate(188,63)"><path d="M3.5 4.5 L6 7.5 L12 0.5" fill="none" stroke="#b0b0b0" stroke-width="1.8"/><path d="M0 11.5 H15" stroke="#808080" stroke-width="1.6"/><path d="M5 8.5 L5 14.5 L9.5 11.5 Z" fill="#808080"/><path d="M10 8.5 V14.5" stroke="#808080" stroke-width="1.6"/></g>
<g transform="translate(212,63)"><path d="M1 1.2 Q2.5 -0.3 5 0.4" stroke="#111" stroke-width="1.2" fill="none"/><rect x="1.3" y="1.1" width="4.6" height="3.4" rx="1.3" fill="#a6cef7" stroke="#222" stroke-width="1.05"/><rect x="8.3" y="1.1" width="4.6" height="3.4" rx="1.3" fill="#a6cef7" stroke="#222" stroke-width="1.05"/><path d="M6 2.5 H8.2" stroke="#222" stroke-width="1.2"/><path d="M13 2.5 L13.8 -0.8" stroke="#222" stroke-width="1.1"/><rect x="2.2" y="2" width="1.5" height="1.2" fill="#fff"/><rect x="9.2" y="2" width="1.5" height="1.2" fill="#fff"/><path d="M1 9.5 H12" stroke="#2e5e94"/><circle cx="1.5" cy="9.5" r="1.6" fill="#e00"/><circle cx="11.5" cy="9.5" r="1.6" fill="#e00"/></g>
<g transform="translate(233,63)"><path d="M8 0.8 L15.3 15 H0.7 Z" fill="#ffff00" stroke="#000" stroke-width="1.2" stroke-linejoin="round"/></g>
<g transform="translate(257,64)"><path d="M2.5 0 V14.5" stroke="#4a72c4" stroke-width="1.3"/><path d="M6.2 0 V14.5" stroke="#4a72c4" stroke-width="1.3"/><path d="M9.8 0 V14.5" stroke="#4a72c4" stroke-width="1.3"/><path d="M13.4 0 V14.5" stroke="#4a72c4" stroke-width="1.3"/><path d="M0 1.8 H15.5" stroke="#4a72c4" stroke-width="1.3"/><path d="M0 5.4 H15.5" stroke="#4a72c4" stroke-width="1.3"/><path d="M0 9 H15.5" stroke="#4a72c4" stroke-width="1.3"/><path d="M0 12.6 H15.5" stroke="#4a72c4" stroke-width="1.3"/></g>
<path d="M280 70 h7 l-3.5 4z" fill="#000"/>
<g transform="translate(295,63)"><path d="M0.5 0.5 H10 L12.5 3 V15 H0.5 Z" fill="#f2f6fb" stroke="#3b5478"/><rect x="2.5" y="2.5" width="7" height="10" fill="none" stroke="#d3752a" stroke-width="1.5"/></g>
<g transform="translate(318,63)"><path d="M0.5 0.5 H10 L12.5 3 V15 H0.5 Z" fill="#f2f6fb" stroke="#3b5478"/><rect x="5.5" y="9" width="5" height="4" fill="none" stroke="#d3752a" stroke-width="1.3"/><path d="M5.5 11 H10.5" stroke="#d3752a"/></g>
<rect x="337" y="60" width="22" height="22" fill="#f0f0f0" />
<rect x="339" y="62" width="18" height="2" fill="url(#chk)" />
<rect x="339" y="62" width="2" height="18" fill="url(#chk)" />
<rect x="339" y="79" width="18" height="1" fill="url(#chk)" />
<rect x="356" y="62" width="1" height="18" fill="url(#chk)" />
<rect x="337" y="60" width="22" height="1" fill="#a0a0a0" />
<rect x="337" y="60" width="1" height="22" fill="#a0a0a0" />
<rect x="337" y="81" width="22" height="1" fill="#ffffff" />
<rect x="358" y="60" width="1" height="22" fill="#ffffff" />
<g transform="translate(341,64)"><path d="M3 12 V3 H11" fill="none" stroke="#3a78e6" stroke-width="2"/><rect x="10.5" y="0.5" width="5" height="4.5" fill="#c8dcf4" stroke="#5a84c4"/><rect x="0.5" y="11" width="5" height="4.5" fill="#c8dcf4" stroke="#5a84c4"/><path d="M7 13 H9 L11.5 10.5 L14 13 L11.5 15.5 Z" fill="none" stroke="#5a84c4" stroke-dasharray="1 1"/></g>
<rect x="362" y="62" width="1" height="20" fill="#a0a0a0" />
<rect x="363" y="62" width="1" height="20" fill="#ffffff" />
<g transform="translate(368,63)"><rect x="0.5" y="4.5" width="11" height="9" fill="#eef3fa" stroke="#44546a"/><rect x="1" y="5" width="10" height="2" fill="#7aa0d8"/><path d="M3 9.5 H9 M3 11.5 H9" stroke="#7a90b0"/><path d="M4 5 L8 0.5 H14 Q16 1 15.5 3.5 L11 5.5 Z" fill="#e6b52a" stroke="#a07a10" stroke-width="0.7"/><rect x="15" y="0" width="1.5" height="5" fill="#2a9a2a"/></g>
<rect x="390" y="62" width="1" height="20" fill="#a0a0a0" />
<rect x="391" y="62" width="1" height="20" fill="#ffffff" />
<g transform="translate(396,63)"><rect x="3.5" y="3.5" width="10" height="9" fill="none" stroke="#777"/><path d="M0.5 1 H8 M1 1 V8" stroke="#777"/><rect x="0" y="0" width="3" height="3" fill="#555"/><rect x="7" y="0" width="3" height="3" fill="#555"/><rect x="2" y="2" width="3" height="3" fill="#555"/><rect x="12" y="2" width="3" height="3" fill="#555"/><rect x="0" y="7" width="3" height="3" fill="#555"/><rect x="2" y="11" width="3" height="3" fill="#555"/><rect x="12" y="11" width="3" height="3" fill="#555"/></g>
<g transform="translate(421,63)"><rect x="0.5" y="0.5" width="12" height="11" rx="2" fill="#f6f6f6" stroke="#c8c8c8"/><path d="M0.5 13.5 L2 12 M12.5 13.5 L11 12" stroke="#c8c8c8"/></g>
<g transform="translate(442,63)"><path d="M6.5 3.2 A5 5 0 1 1 2.6 10.8" fill="none" stroke="#b4b4b4" stroke-width="2.2"/><circle cx="7" cy="8" r="2.2" fill="#a4a4a4"/><path d="M7.5 0 L3.5 3.4 L8 5.5 Z" fill="#b4b4b4"/><path d="M0.5 8.5 H2 M1 6.5 H2.5" stroke="#c0c0c0"/></g>
<g transform="translate(466,64)"><path d="M6 0.5 V12 H0.5 Z" fill="#d8d8d8" stroke="#bcbcbc"/><path d="M8.5 0.5 V12 H14 Z" fill="#b8b8b8" stroke="#a8a8a8"/></g>
<g transform="translate(490,64)"><path d="M11.5 0.5 V6 H0.5 Z" fill="#d4d4d4" stroke="#b4b4b4"/><path d="M11.5 14 V8.5 H0.5 Z" fill="#bcbcbc" stroke="#a8a8a8"/></g>
<rect x="510" y="62" width="1" height="20" fill="#a0a0a0" />
<rect x="511" y="62" width="1" height="20" fill="#ffffff" />
<g transform="translate(517,63)"><rect x="1.5" y="0.5" width="3.5" height="3.5" fill="#5a82cc" stroke="#22448a" stroke-width="0.7"/><rect x="7" y="0.5" width="3.5" height="3.5" fill="#5a82cc" stroke="#22448a" stroke-width="0.7"/><rect x="0.5" y="3.5" width="5" height="6.5" rx="1" fill="#90b0e8" stroke="#22448a"/><rect x="6.5" y="3.5" width="5" height="6.5" rx="1" fill="#90b0e8" stroke="#22448a"/><rect x="5" y="4" width="2" height="3" fill="#22448a"/><path d="M1.5 5 V8.5 M7.5 5 V8.5" stroke="#fff" stroke-width="0.8"/><path d="M2 12.5 L4 11.2 L6 12.8 L8 11.2 L10 12.8 L12 11.2 L13.5 12.5" stroke="#1a2a8a" fill="none" stroke-width="1.1"/></g>
<g transform="translate(540,63)"><g transform="translate(0,1)"><rect x="1.5" y="0" width="4" height="4" fill="#5a82cc" stroke="#22448a" stroke-width="0.6"/><rect x="9.5" y="0" width="4" height="4" fill="#5a82cc" stroke="#22448a" stroke-width="0.6"/><rect x="0.5" y="4" width="6" height="8.5" rx="1" fill="#90b0e8" stroke="#22448a"/><rect x="8.5" y="4" width="6" height="8.5" rx="1" fill="#90b0e8" stroke="#22448a"/><rect x="6" y="5" width="3" height="3" fill="#22448a"/></g></g>
<rect x="561" y="62" width="1" height="20" fill="#a0a0a0" />
<rect x="562" y="62" width="1" height="20" fill="#ffffff" />
<g transform="translate(567,62)"><path d="M5.5 1.5 H14.5 V14.5 H5.5 Z" fill="#f8f8f8" stroke="#b8b8b8"/><path d="M6 15 H15 V2" stroke="#999" stroke-width="1.5" fill="none"/><path d="M8 4.5 H13 M8 7 H13 M8 9.5 H13 M8 12 H13" stroke="#a8a8a8"/><path d="M1 12 Q1 6 6 5.5 L5 4 L9 5.5 L6 8.5 L6 7 Q3 7.5 3 12 Z" fill="#c0c0c0" stroke="#a0a0a0" stroke-width="0.6"/></g>
<rect x="589" y="62" width="1" height="20" fill="#a0a0a0" />
<rect x="590" y="62" width="1" height="20" fill="#ffffff" />
<g transform="translate(12,91)"><path d="M5 0.5 H11 L15.5 5 V11 L11 15.5 H5 L0.5 11 V5 Z" fill="#a9a9a9"/><path d="M7 3 H9 L8.6 10 H7.4 Z" fill="#fff"/><rect x="7" y="11.3" width="2" height="2" fill="#fff"/></g>
<g transform="translate(35,91)"><path d="M5 0.5 H11 L15.5 5 V11 L11 15.5 H5 L0.5 11 V5 Z" fill="#6e6e6e"/><path d="M5 5 L11 11 M11 5 L5 11" stroke="#fff" stroke-width="1.8"/></g>
<g transform="translate(58,91)"><path d="M5 0.5 H11 L15.5 5 V11 L11 15.5 H5 L0.5 11 V5 Z" fill="#d2d2d2"/><rect x="3.5" y="7" width="2" height="2" fill="#555"/><rect x="7" y="7" width="2" height="2" fill="#555"/><rect x="10.5" y="7" width="2" height="2" fill="#555"/></g>
<rect x="79" y="90" width="1" height="20" fill="#a0a0a0" />
<rect x="80" y="90" width="1" height="20" fill="#ffffff" />
<g transform="translate(85,92)"><rect x="0.5" y="0.5" width="6" height="6" fill="#e8e8e8" stroke="#b4b4b4"/><rect x="9.5" y="9.5" width="5" height="5" fill="#cdcdcd" stroke="#a4a4a4"/><rect x="3.5" y="3.5" width="8" height="8" fill="#d8d8d8" stroke="#a4a4a4"/></g>
<g transform="translate(108,92)"><rect x="0.5" y="0.5" width="6" height="6" fill="#e8e8e8" stroke="#b4b4b4"/><rect x="4.5" y="4.5" width="6" height="6" fill="#d8d8d8" stroke="#a4a4a4"/><rect x="8.5" y="8.5" width="6" height="6" fill="#cdcdcd" stroke="#a4a4a4"/></g>
<rect x="130" y="90" width="1" height="20" fill="#a0a0a0" />
<rect x="131" y="90" width="1" height="20" fill="#ffffff" />
<g transform="translate(136,91)"><path d="M9 9.5 L13.5 14" stroke="#6b4d10" stroke-width="4"/><path d="M9.2 9.7 L13.3 13.8" stroke="#e0b43a" stroke-width="2.4"/><circle cx="6" cy="6" r="5.3" fill="#dfeaf8" stroke="#777" stroke-width="1.3"/><path d="M3 6 H9 M6 3 V9" stroke="#3a5e9c" stroke-width="2"/></g>
<g transform="translate(159,91)"><path d="M9 9.5 L13.5 14" stroke="#6b4d10" stroke-width="4"/><path d="M9.2 9.7 L13.3 13.8" stroke="#e0b43a" stroke-width="2.4"/><circle cx="6" cy="6" r="5.3" fill="#dfeaf8" stroke="#777" stroke-width="1.3"/><path d="M3 6 H9" stroke="#3a5e9c" stroke-width="2"/></g>
<g transform="translate(182,91)"><rect x="5.5" y="0.5" width="10" height="6" fill="#fff" stroke="#3a4e70"/><text x="10.6" y="5.8" font-size="6" font-weight="bold" fill="#111" text-anchor="middle">100</text><path d="M6 11 L9 14" stroke="#c06010" stroke-width="3"/><circle cx="4.5" cy="9.5" r="4" fill="#e4eefa" stroke="#888"/></g>
<rect x="204" y="90" width="1" height="20" fill="#a0a0a0" />
<rect x="205" y="90" width="1" height="20" fill="#ffffff" />
<g transform="translate(211,91)"><path d="M0.5 2.5 H5 L6 4 H14.5 V13.5 H0.5 Z" fill="#c8c8c8" stroke="#a0a0a0"/><path d="M1 6 H15 V13.5 H1 Z" fill="#b4b4b4"/><path d="M7 11 Q7 6 11 5.5 L10.5 3.5 L15 6.5 L11 9.5 L11 8 Q8.5 8 7 11 Z" fill="#909090"/></g>
<rect x="232" y="90" width="1" height="20" fill="#a0a0a0" />
<rect x="233" y="90" width="1" height="20" fill="#ffffff" />
<g transform="translate(238,92)"><rect x="0" y="0" width="16" height="12" fill="#fff"/><rect x="1" y="1" width="4" height="4" fill="#a4a4a4"/><rect x="1" y="6" width="4" height="4" fill="#8c8c8c"/><rect x="6" y="1" width="4" height="4" fill="#a4a4a4"/><rect x="6" y="6" width="4" height="4" fill="#8c8c8c"/><rect x="11" y="1" width="4" height="4" fill="#a4a4a4"/><rect x="11" y="6" width="4" height="4" fill="#cfcfcf"/></g>
<path d="M262 98 h7 l-3.5 4z" fill="#9a9a9a"/>
<g transform="translate(279,93)"><text x="0" y="11" font-family="Liberation Serif" font-weight="bold" font-size="14" fill="#9c9c9c">A</text></g>
<g transform="translate(300,91)"><text x="0" y="10" font-family="Liberation Sans" font-weight="bold" font-size="12" fill="#3a74c4">A</text><rect x="10.5" y="0.5" width="3" height="3" fill="#fff" stroke="#3a74c4"/><path d="M7 13 L14 6" stroke="#e8d800" stroke-width="2.5"/><path d="M2 15 Q4 12 7 12.5 L6 14.5 Z" fill="#3a74c4"/></g>
<path d="M323 98 h7 l-3.5 4z" fill="#000"/>
<g transform="translate(629,36)"><path d="M1.5 0.5 L1.5 12.5 L4.5 9.5 L7 14.5 L9 13.5 L6.8 8.8 L10.5 8.8 Z" fill="#fff" stroke="#47699b" stroke-width="1"/></g>
<g transform="translate(651,37)"><path d="M3.5 11.5 Q1.2 9.5 1.2 8 Q1.5 6.8 3 7.6 L3.8 8.4 V3 Q3.9 1.8 5 1.8 Q6 1.9 6.1 3 V1.6 Q6.2 0.5 7.3 0.5 Q8.4 0.5 8.5 1.6 V2.2 Q8.6 1.2 9.7 1.3 Q10.8 1.5 10.8 2.7 V4 Q11 3.2 11.9 3.3 Q12.8 3.5 12.8 4.8 V8.5 Q12.8 11.5 10.5 12.3 H6 Q4.5 12.3 3.5 11.5 Z" fill="#fbfbfb" stroke="#5e5e5e" stroke-width="1"/><path d="M6.1 3 V6.5 M8.5 2 V6.5 M10.8 3.5 V7" stroke="#8a8a8a" stroke-width="0.9"/></g>
<g transform="translate(672,35)"><circle cx="11" cy="5.5" r="5" fill="#d7e8fb" stroke="#3f74c4"/><rect x="0.5" y="3.5" width="9" height="8" fill="#bcd6f5" stroke="#3f74c4"/><path d="M5 9 V14 A3 1.3 0 0 0 11 14 V9 A3 1.3 0 0 0 5 9 Z" fill="#e6f0fc" stroke="#3f74c4"/></g>
<path d="M696 42 h7 l-3.5 4z" fill="#000"/>
<rect x="707" y="32" width="23" height="22" fill="#f0f0f0" />
<rect x="709" y="34" width="19" height="2" fill="url(#chk)" />
<rect x="709" y="34" width="2" height="18" fill="url(#chk)" />
<rect x="709" y="51" width="19" height="1" fill="url(#chk)" />
<rect x="727" y="34" width="1" height="18" fill="url(#chk)" />
<rect x="707" y="32" width="23" height="1" fill="#a0a0a0" />
<rect x="707" y="32" width="1" height="22" fill="#a0a0a0" />
<rect x="707" y="53" width="23" height="1" fill="#ffffff" />
<rect x="729" y="32" width="1" height="22" fill="#ffffff" />
<g transform="translate(711,36)"><rect x="0.5" y="0.5" width="15" height="14" fill="#f4f7fc" stroke="#3d4a66"/><path d="M1 8 L4 5 L7 8 L10 4 L15 6" fill="none" stroke="#2c5fd0"/><path d="M9 10 L13 14" stroke="#c06010" stroke-width="3"/><circle cx="8" cy="8" r="3.8" fill="#e6eef9" stroke="#666"/></g>
<g transform="translate(733,35)"><rect x="0.5" y="0.5" width="15" height="14" fill="#f4f7fc" stroke="#333"/><path d="M1 6 L4 3 L7 6 L10 2 L12 5 L15 3" fill="none" stroke="#2c5fd0"/><path d="M4 0.5 V6 M12 0.5 V6" stroke="#000" stroke-dasharray="1 1"/><path d="M2 10.5 H7 M9 10.5 H14 M2 12.5 H7 M9 12.5 H14" stroke="#3d4a66"/></g>
<g transform="translate(756,35)"><rect x="0.5" y="0.5" width="15" height="14" fill="#eef3fb" stroke="#3d5a86"/><path d="M2 13 Q9 11 14 3" fill="none" stroke="#ee7a10" stroke-width="1.2"/><path d="M1 3.5 H15" stroke="#3a6ed0" stroke-width="1.5"/><path d="M1 3.5 L4 1 V6 Z M15 3.5 L12 1 V6 Z" fill="#3a6ed0"/></g>
<g transform="translate(779,35)"><rect x="0.5" y="0.5" width="15" height="14" fill="#eef3fb" stroke="#3d5a86"/><path d="M2 13 Q9 11 14 3" fill="none" stroke="#ee7a10" stroke-width="1.2"/><path d="M4 1 V14" stroke="#3a6ed0" stroke-width="1.5"/><path d="M4 0.5 L1.5 4 H6.5 Z M4 14.5 L1.5 11 H6.5 Z" fill="#3a6ed0"/></g>
<g transform="translate(802,35)"><rect x="0.5" y="0.5" width="15" height="14" fill="#eef3fb" stroke="#3d5a86"/><path d="M2 13 Q9 11 14 3" fill="none" stroke="#ee7a10" stroke-width="1.2"/><path d="M2 2 L7 7" stroke="#3a6ed0" stroke-width="1.5"/><path d="M8 8 L4 7.5 L7.5 4 Z" fill="#3a6ed0"/></g>
<g transform="translate(825,35)"><rect x="0.5" y="0.5" width="15" height="14" fill="#eef3fb" stroke="#3d5a86"/><path d="M2 13 Q9 11 14 3" fill="none" stroke="#ee7a10" stroke-width="1.2"/><text x="1" y="11" font-family="Liberation Serif" font-style="italic" font-weight="bold" font-size="11" fill="#111">fx</text></g>
<g transform="translate(849,36)"><path d="M0.5 0.5 H12 V4.5 H10.5 L10 2.5 H7.8 V11 L9.5 11.3 V12.5 H3 V11.3 L4.7 11 V2.5 H2.5 L2 4.5 H0.5 Z" fill="#000"/></g>
<rect x="870" y="34" width="1" height="20" fill="#a0a0a0" />
<rect x="871" y="34" width="1" height="20" fill="#ffffff" />
<g transform="translate(876,35)"><rect x="0.5" y="4.5" width="11" height="9" fill="#eef3fa" stroke="#44546a"/><rect x="1" y="5" width="10" height="2" fill="#7aa0d8"/><path d="M3 9.5 H9 M3 11.5 H9" stroke="#7a90b0"/><path d="M4 5 L8 0.5 H14 Q16 1 15.5 3.5 L11 5.5 Z" fill="#e6b52a" stroke="#a07a10" stroke-width="0.7"/><rect x="15" y="0" width="1.5" height="5" fill="#2a9a2a"/></g>
<rect x="898" y="34" width="1" height="20" fill="#a0a0a0" />
<rect x="899" y="34" width="1" height="20" fill="#ffffff" />
<g transform="translate(909,37)"><path d="M0.5 0 L7 5.5 L0.5 11 Z" fill="#2a9a2a" stroke="#1a6a1a" stroke-width="0.6"/></g>
<g transform="translate(931,38)"><rect x="0.5" y="0.5" width="8.5" height="8.5" fill="#e0e0e0" stroke="#b4b4b4"/></g>
<g transform="translate(955,38)"><rect x="0.5" y="0.5" width="2.5" height="8.5" fill="#e0e0e0" stroke="#b0b0b0"/><rect x="4.5" y="0.5" width="2.5" height="8.5" fill="#e0e0e0" stroke="#b0b0b0"/></g>
<rect x="972" y="34" width="1" height="20" fill="#a0a0a0" />
<rect x="973" y="34" width="1" height="20" fill="#ffffff" />
<g transform="translate(978,35)"><rect x="0.5" y="0.5" width="15" height="14" fill="#fbfbf6" stroke="#8a8a8a"/><rect x="1" y="1" width="7" height="6.5" fill="#ebe8d8"/><path d="M8 1 V14 M1 7.5 H15" stroke="#c4c4bc"/><path d="M1 14.5 L4 12 L8 7.5 L12.5 3.5 L15 1" fill="none" stroke="#d44" stroke-width="1"/><rect x="2.5" y="10.5" width="3" height="3" fill="#d44" stroke="#d44" stroke-width="0.9"/><rect x="6.5" y="6.0" width="3" height="3" fill="#d44" stroke="#d44" stroke-width="0.9"/><rect x="11.0" y="2.0" width="3" height="3" fill="#d44" stroke="#d44" stroke-width="0.9"/></g>
<g transform="translate(1001,35)"><rect x="0.5" y="0.5" width="15" height="14" fill="#fbfbf6" stroke="#8a8a8a"/><rect x="1" y="1" width="7" height="6.5" fill="#ebe8d8"/><path d="M8 1 V14 M1 7.5 H15" stroke="#c4c4bc"/><path d="M1 14.5 L4 12 L8 7.5 L12.5 3.5 L15 1" fill="none" stroke="#d44" stroke-width="1"/><rect x="2.5" y="10.5" width="3" height="3" fill="#fff" stroke="#d44" stroke-width="0.9"/><rect x="6.5" y="6.0" width="3" height="3" fill="#fff" stroke="#d44" stroke-width="0.9"/><rect x="11.0" y="2.0" width="3" height="3" fill="#fff" stroke="#d44" stroke-width="0.9"/></g>
<rect x="1023" y="34" width="1" height="20" fill="#a0a0a0" />
<rect x="1024" y="34" width="1" height="20" fill="#ffffff" />
<g transform="translate(1029,36)"><rect x="0" y="0" width="16" height="15" fill="#2e4a72"/><rect x="0" y="0" width="15" height="14" fill="#a8c0e0"/><rect x="1" y="1" width="14" height="13" fill="#f6f6fc"/><rect x="3" y="3" width="10" height="8" fill="#f6f0fb" stroke="#ff8400" stroke-width="1.6"/><path d="M2.5 4.5 v1 M2.5 7 v1 M2.5 9.5 v1 M13.5 4.5 v1 M13.5 7 v1 M13.5 9.5 v1 M4.5 2.5 h1 M7 2.5 h1 M9.5 2.5 h1 M4.5 11.5 h1 M7 11.5 h1 M9.5 11.5 h1" stroke="#ff8400" stroke-width="1.2"/></g>
<g transform="translate(1052,36)"><rect x="0" y="0" width="16" height="15" fill="#2e4a72"/><rect x="0" y="0" width="15" height="14" fill="#a8c0e0"/><rect x="1" y="1" width="14" height="13" fill="#f6f6fc"/><path d="M2.5 2 V12.5 H14" fill="none" stroke="#a8bcd8"/><path d="M3.7 4 h3.6 M5.5 2.2 v3.6" stroke="#f08a10" stroke-width="1.3"/><path d="M9.2 4 h3.6 M11 2.2 v3.6" stroke="#f08a10" stroke-width="1.3"/><path d="M3.7 9.5 h3.6 M5.5 7.7 v3.6" stroke="#f08a10" stroke-width="1.3"/><path d="M9.2 9.5 h3.6 M11 7.7 v3.6" stroke="#f08a10" stroke-width="1.3"/></g>
<rect x="1074" y="34" width="1" height="20" fill="#a0a0a0" />
<rect x="1075" y="34" width="1" height="20" fill="#ffffff" />
<rect x="1077" y="32" width="22" height="22" fill="#f0f0f0" />
<rect x="1079" y="34" width="18" height="2" fill="url(#chk)" />
<rect x="1079" y="34" width="2" height="18" fill="url(#chk)" />
<rect x="1079" y="51" width="18" height="1" fill="url(#chk)" />
<rect x="1096" y="34" width="1" height="18" fill="url(#chk)" />
<rect x="1077" y="32" width="22" height="1" fill="#a0a0a0" />
<rect x="1077" y="32" width="1" height="22" fill="#a0a0a0" />
<rect x="1077" y="53" width="22" height="1" fill="#ffffff" />
<rect x="1098" y="32" width="1" height="22" fill="#ffffff" />
<rect x="1100" y="32" width="22" height="22" fill="#f0f0f0" />
<rect x="1102" y="34" width="18" height="2" fill="url(#chk)" />
<rect x="1102" y="34" width="2" height="18" fill="url(#chk)" />
<rect x="1102" y="51" width="18" height="1" fill="url(#chk)" />
<rect x="1119" y="34" width="1" height="18" fill="url(#chk)" />
<rect x="1100" y="32" width="22" height="1" fill="#a0a0a0" />
<rect x="1100" y="32" width="1" height="22" fill="#a0a0a0" />
<rect x="1100" y="53" width="22" height="1" fill="#ffffff" />
<rect x="1121" y="32" width="1" height="22" fill="#ffffff" />
<rect x="1123" y="32" width="22" height="22" fill="#f0f0f0" />
<rect x="1125" y="34" width="18" height="2" fill="url(#chk)" />
<rect x="1125" y="34" width="2" height="18" fill="url(#chk)" />
<rect x="1125" y="51" width="18" height="1" fill="url(#chk)" />
<rect x="1142" y="34" width="1" height="18" fill="url(#chk)" />
<rect x="1123" y="32" width="22" height="1" fill="#a0a0a0" />
<rect x="1123" y="32" width="1" height="22" fill="#a0a0a0" />
<rect x="1123" y="53" width="22" height="1" fill="#ffffff" />
<rect x="1144" y="32" width="1" height="22" fill="#ffffff" />
<g transform="translate(1081,37)"><rect x="0.5" y="0.5" width="15" height="14" fill="#fff" stroke="#31486e"/><rect x="1" y="1" width="14" height="1" fill="#c8d6ec"/><path d="M2.5 2 V12.5 H14" fill="none" stroke="#9fb6d8"/><path d="M5 2 V11" stroke="#ff8a10" stroke-width="1.2"/><path d="M7.5 2 V11" stroke="#ff8a10" stroke-width="1.2"/><path d="M10 2 V11" stroke="#ff8a10" stroke-width="1.2"/><path d="M12.5 2 V11" stroke="#ff8a10" stroke-width="1.2"/></g>
<g transform="translate(1104,37)"><rect x="0.5" y="0.5" width="15" height="14" fill="#fff" stroke="#31486e"/><rect x="1" y="1" width="14" height="1" fill="#c8d6ec"/><path d="M2.5 2 V12.5 H14" fill="none" stroke="#9fb6d8"/><path d="M3.5 3 H14" stroke="#ff8a10" stroke-width="1.2"/><path d="M3.5 5.5 H14" stroke="#ff8a10" stroke-width="1.2"/><path d="M3.5 8 H14" stroke="#ff8a10" stroke-width="1.2"/><path d="M3.5 10.5 H14" stroke="#ff8a10" stroke-width="1.2"/></g>
<g transform="translate(1127,37)"><rect x="0.5" y="0.5" width="15" height="14" fill="#fff" stroke="#31486e"/><rect x="1" y="1" width="14" height="1" fill="#c8d6ec"/><path d="M2.5 2 V12.5 H14" fill="none" stroke="#9fb6d8"/><path d="M6 2 V11" stroke="#ff8a10" stroke-width="1.2"/><path d="M9 2 V11" stroke="#ff8a10" stroke-width="1.2"/><path d="M12 2 V11" stroke="#ff8a10" stroke-width="1.2"/></g>
<g transform="translate(1149,36)"><rect x="0.5" y="0.5" width="15" height="14" fill="#fff" stroke="#31486e"/><rect x="1" y="1" width="14" height="1" fill="#c8d6ec"/><path d="M2.5 2 V12.5 H14" fill="none" stroke="#9fb6d8"/><path d="M7 2 V11" stroke="#ff8a10" stroke-width="1.2"/><path d="M12 2 V11" stroke="#ff8a10" stroke-width="1.2"/></g>
<rect x="1171" y="34" width="1" height="20" fill="#a0a0a0" />
<rect x="1172" y="34" width="1" height="20" fill="#ffffff" />
<rect x="1174" y="32" width="23" height="22" fill="#f0f0f0" />
<rect x="1176" y="34" width="19" height="2" fill="url(#chk)" />
<rect x="1176" y="34" width="2" height="18" fill="url(#chk)" />
<rect x="1176" y="51" width="19" height="1" fill="url(#chk)" />
<rect x="1194" y="34" width="1" height="18" fill="url(#chk)" />
<rect x="1174" y="32" width="23" height="1" fill="#a0a0a0" />
<rect x="1174" y="32" width="1" height="22" fill="#a0a0a0" />
<rect x="1174" y="53" width="23" height="1" fill="#ffffff" />
<rect x="1196" y="32" width="1" height="22" fill="#ffffff" />
<g transform="translate(1178,37)"><rect x="0.5" y="0.5" width="15" height="14" fill="#fff" stroke="#31486e"/><rect x="1" y="1" width="14" height="1" fill="#c8d6ec"/><path d="M2.5 2 V12.5 H14" fill="none" stroke="#9fb6d8"/><path d="M3 8 H14" stroke="#111" stroke-width="1.6"/></g>
<g transform="translate(1200,36)"><rect x="0.5" y="0.5" width="15" height="14" fill="#fff" stroke="#31486e"/><rect x="1" y="1" width="14" height="1" fill="#c8d6ec"/><path d="M2.5 2 V12.5 H14" fill="none" stroke="#9fb6d8"/><rect x="3" y="7" width="1.2" height="1.2" fill="#111"/><rect x="5.5" y="7" width="1.2" height="1.2" fill="#111"/><rect x="8" y="7" width="1.2" height="1.2" fill="#111"/><rect x="10.5" y="7" width="1.2" height="1.2" fill="#111"/><rect x="13" y="7" width="1.2" height="1.2" fill="#111"/><rect x="8" y="2" width="1.2" height="1.2" fill="#111"/><rect x="8" y="4.5" width="1.2" height="1.2" fill="#111"/><rect x="8" y="9.5" width="1.2" height="1.2" fill="#111"/><rect x="8" y="12" width="1.2" height="1.2" fill="#111"/></g>
<rect x="1222" y="34" width="1" height="20" fill="#a0a0a0" />
<rect x="1223" y="34" width="1" height="20" fill="#ffffff" />
<g transform="translate(626,63)"><circle cx="7.5" cy="7.5" r="7" fill="url(#cgrad)" stroke="#5a6070" stroke-width="1.1"/><text x="7.5" y="11" font-family="Liberation Serif" font-weight="bold" font-size="12" fill="#000" text-anchor="middle">x</text><path d="M11.5 14.5 L13 12.5 L14.5 14.5 V16 H11.5 Z" fill="#f09a20"/></g>
<g transform="translate(649,63)"><circle cx="7.5" cy="7.5" r="7" fill="url(#cgrad)" stroke="#5a6070" stroke-width="1.1"/><text x="7.5" y="10.5" font-family="Liberation Serif" font-weight="bold" font-size="12" fill="#000" text-anchor="middle">y</text><path d="M11.5 14.5 L13 12.5 L14.5 14.5 V16 H11.5 Z" fill="#f09a20"/></g>
<g transform="translate(672,63)"><circle cx="7.5" cy="7.5" r="7" fill="url(#cgrad)" stroke="#5a6070" stroke-width="1.1"/><text x="6" y="11" font-family="Liberation Serif" font-style="italic" font-weight="bold" font-size="11" fill="#111" text-anchor="middle">f</text><text x="10.5" y="11" font-size="6" fill="#111" text-anchor="middle">x</text><path d="M11.5 14.5 L13 12.5 L14.5 14.5 V16 H11.5 Z" fill="#f09a20"/></g>
<g transform="translate(695,63)"><circle cx="7.5" cy="7.5" r="7" fill="#f0f0f0" stroke="#a8a8a8" stroke-width="1.2"/><path d="M4 5 H11 M4 7.5 H11 M4 10 H11" stroke="#666" stroke-width="1.2"/><path d="M12 13 h3" stroke="#b0b0b0"/></g>
<rect x="717" y="62" width="1" height="20" fill="#a0a0a0" />
<rect x="718" y="62" width="1" height="20" fill="#ffffff" />
<g transform="translate(723,63)"><rect x="0.5" y="3.5" width="13" height="11" fill="#eef3fb" stroke="#3d5a86"/><rect x="1" y="4" width="12" height="2.5" fill="#7aa0dc"/><path d="M1 9.5 H13 M1 12 H13 M5 7 V14 M9 7 V14" stroke="#9ab4dc"/><path d="M8 8 L14 1.5 L16 3.5 L10 10 L7.5 10.5 Z" fill="#f2f2f2" stroke="#4a6a9a" stroke-width="0.8"/></g>
<rect x="745" y="62" width="1" height="20" fill="#a0a0a0" />
<rect x="746" y="62" width="1" height="20" fill="#ffffff" />
<rect x="748" y="60" width="22" height="22" fill="#f0f0f0" />
<rect x="750" y="62" width="18" height="2" fill="url(#chk)" />
<rect x="750" y="62" width="2" height="18" fill="url(#chk)" />
<rect x="750" y="79" width="18" height="1" fill="url(#chk)" />
<rect x="767" y="62" width="1" height="18" fill="url(#chk)" />
<rect x="748" y="60" width="22" height="1" fill="#a0a0a0" />
<rect x="748" y="60" width="1" height="22" fill="#a0a0a0" />
<rect x="748" y="81" width="22" height="1" fill="#ffffff" />
<rect x="769" y="60" width="1" height="22" fill="#ffffff" />
<g transform="translate(752,64)"><path d="M0.5 0 V15 M0.5 1.5 H16 M0.5 13.5 H16" stroke="#7a7a7a" stroke-width="1.2" fill="none"/><path d="M9 1.5 V13.5" stroke="#000" stroke-width="1.3" stroke-dasharray="1.3 1.3"/><path d="M1.5 7.5 H15" fill="none" stroke="#108a10" stroke-width="1.4"/><rect x="1.5" y="6" width="3" height="3" fill="#108a10"/><rect x="12.5" y="6" width="3" height="3" fill="#108a10"/></g>
<g transform="translate(774,64)"><path d="M0.5 0 V15 M0.5 1.5 H16 M0.5 13.5 H16" stroke="#7a7a7a" stroke-width="1.2" fill="none"/><path d="M9 1.5 V13.5" stroke="#000" stroke-width="1.3" stroke-dasharray="1.3 1.3"/><path d="M1.5 7.5 H15" fill="none" stroke="#108a10" stroke-width="1.4"/><rect x="1.5" y="6" width="3" height="3" fill="#108a10"/><rect x="12.5" y="6" width="3" height="3" fill="#108a10"/></g>
<g transform="translate(797,64)"><path d="M0.5 0 V15 M0.5 1.5 H16 M0.5 13.5 H16" stroke="#7a7a7a" stroke-width="1.2" fill="none"/><path d="M9 1.5 V13.5" stroke="#000" stroke-width="1.3" stroke-dasharray="1.3 1.3"/><path d="M2 13 Q5 2 8 2 Q11 2 14 13" fill="none" stroke="#108a10" stroke-width="1.4"/></g>
<g transform="translate(820,64)"><path d="M0.5 0 V15 M0.5 1.5 H16 M0.5 13.5 H16" stroke="#7a7a7a" stroke-width="1.2" fill="none"/><path d="M9 1.5 V13.5" stroke="#000" stroke-width="1.3" stroke-dasharray="1.3 1.3"/><path d="M2 2 Q5 13 8 13 Q11 13 14 2" fill="none" stroke="#108a10" stroke-width="1.4"/></g>
<g transform="translate(843,64)"><path d="M0.5 0 V15 M0.5 1.5 H16 M0.5 13.5 H16" stroke="#7a7a7a" stroke-width="1.2" fill="none"/><path d="M9 1.5 V13.5" stroke="#000" stroke-width="1.3" stroke-dasharray="1.3 1.3"/><path d="M1 10 Q3 7 5 11 Q7 13 9 6 Q11 2 13 6 L15 9" fill="none" stroke="#108a10" stroke-width="1.4"/></g>
<g transform="translate(866,64)"><path d="M0.5 0 V15 M0.5 1.5 H16 M0.5 13.5 H16" stroke="#7a7a7a" stroke-width="1.2" fill="none"/><path d="M9 1.5 V13.5" stroke="#000" stroke-width="1.3" stroke-dasharray="1.3 1.3"/><path d="M1 8 Q3 10 5 4 Q7 1 9 7 Q11 13 13 7 L15 5" fill="none" stroke="#108a10" stroke-width="1.4"/></g>
<g transform="translate(889,64)"><path d="M0.5 0 V15 M0.5 1.5 H16 M0.5 13.5 H16" stroke="#7a7a7a" stroke-width="1.2" fill="none"/><path d="M9 1.5 V13.5" stroke="#000" stroke-width="1.3" stroke-dasharray="1.3 1.3"/><path d="M1.5 13 H3 L15 2" fill="none" stroke="#108a10" stroke-width="1.4"/></g>
<g transform="translate(912,64)"><path d="M0.5 0 V15 M0.5 1.5 H16 M0.5 13.5 H16" stroke="#7a7a7a" stroke-width="1.2" fill="none"/><path d="M9 1.5 V13.5" stroke="#000" stroke-width="1.3" stroke-dasharray="1.3 1.3"/><path d="M1 9 L5 3 L13 13 M1 13 L6 6 Q9 4 11 5 L15 8" fill="none" stroke="#108a10" stroke-width="1.4"/></g>
<g transform="translate(935,64)"><path d="M0.5 0 V15 M0.5 1.5 H16 M0.5 13.5 H16" stroke="#7a7a7a" stroke-width="1.2" fill="none"/><path d="M9 1.5 V13.5" stroke="#000" stroke-width="1.3" stroke-dasharray="1.3 1.3"/><path d="M1 6 L5 13 L9 3 M5 5 L10 11 Q12 12 15 8" fill="none" stroke="#108a10" stroke-width="1.4"/></g>
<g transform="translate(958,64)"><path d="M0.5 0 V15 M0.5 1.5 H16 M0.5 13.5 H16" stroke="#7a7a7a" stroke-width="1.2" fill="none"/><path d="M9 1.5 V13.5" stroke="#000" stroke-width="1.3" stroke-dasharray="1.3 1.3"/><path d="M1 3 L8 8 L15 3 M1 6 L8 11 L15 6 M1 9 L8 14 L15 9" fill="none" stroke="#108a10" stroke-width="1.4"/></g>
<g transform="translate(981,64)"><path d="M0.5 0 V15 M0.5 1.5 H16 M0.5 13.5 H16" stroke="#7a7a7a" stroke-width="1.2" fill="none"/><path d="M9 1.5 V13.5" stroke="#000" stroke-width="1.3" stroke-dasharray="1.3 1.3"/><path d="M1 7 L8 2 L15 7 M1 10 L8 5 L15 10 M1 13 L8 8 L15 13" fill="none" stroke="#108a10" stroke-width="1.4"/></g>
<rect x="1003" y="62" width="1" height="20" fill="#a0a0a0" />
<rect x="1004" y="62" width="1" height="20" fill="#ffffff" />
<g transform="translate(1009,63)"><rect x="0.5" y="1.5" width="10" height="12" rx="1" fill="#e8b83a" stroke="#9a7412"/><rect x="3" y="0.5" width="5" height="2.5" fill="#f2e3b0" stroke="#9a7412" stroke-width="0.6"/><rect x="5.5" y="5.5" width="10" height="9" fill="#f4f8fd" stroke="#3d5a86"/><rect x="6" y="6" width="9" height="1.5" fill="#7aa0dc"/><path d="M7 10.5 L8 9.5 L9 10.5 L10 9.5 L11 10.5 L12 9.5 L13 10.5 L14 9.5" stroke="#e03010" fill="none"/><path d="M7 12.5 H14" stroke="#5a7ab0"/></g>
<path d="M1033 70 h7 l-3.5 4z" fill="#000"/>
<rect x="1046" y="62" width="1" height="20" fill="#a0a0a0" />
<rect x="1047" y="62" width="1" height="20" fill="#ffffff" />
<g transform="translate(1054,64)"><rect x="0.5" y="0.5" width="12" height="13" fill="#f0f5fc" stroke="#3d5a86"/><rect x="1" y="1" width="11" height="2" fill="#5d8ae0"/><path d="M3 5.5 H10 M3 7.5 H10 M3 9.5 H10 M3 11.5 H8" stroke="#56657e"/></g>
<rect x="1074" y="62" width="1" height="20" fill="#a0a0a0" />
<rect x="1075" y="62" width="1" height="20" fill="#ffffff" />
<g transform="translate(1080,63)"><rect x="0.5" y="1.5" width="10" height="12" rx="1" fill="#e8b83a" stroke="#9a7412"/><rect x="3" y="0.5" width="5" height="2.5" fill="#f2e3b0" stroke="#9a7412" stroke-width="0.6"/><rect x="5.5" y="5.5" width="10" height="9" fill="#f4f8fd" stroke="#3d5a86"/><rect x="6" y="6" width="9" height="1.5" fill="#7aa0dc"/><text x="10.5" y="13.5" font-family="Liberation Serif" font-size="6.5" font-weight="bold" fill="#111" text-anchor="middle">123</text></g>
<rect x="1102" y="62" width="1" height="20" fill="#a0a0a0" />
<rect x="1103" y="62" width="1" height="20" fill="#ffffff" />
<rect x="1105" y="60" width="22" height="22" fill="#f0f0f0" />
<rect x="1107" y="62" width="18" height="2" fill="url(#chk)" />
<rect x="1107" y="62" width="2" height="18" fill="url(#chk)" />
<rect x="1107" y="79" width="18" height="1" fill="url(#chk)" />
<rect x="1124" y="62" width="1" height="18" fill="url(#chk)" />
<rect x="1105" y="60" width="22" height="1" fill="#a0a0a0" />
<rect x="1105" y="60" width="1" height="22" fill="#a0a0a0" />
<rect x="1105" y="81" width="22" height="1" fill="#ffffff" />
<rect x="1126" y="60" width="1" height="22" fill="#ffffff" />
<rect x="1128" y="60" width="22" height="22" fill="#f0f0f0" />
<rect x="1130" y="62" width="18" height="2" fill="url(#chk)" />
<rect x="1130" y="62" width="2" height="18" fill="url(#chk)" />
<rect x="1130" y="79" width="18" height="1" fill="url(#chk)" />
<rect x="1147" y="62" width="1" height="18" fill="url(#chk)" />
<rect x="1128" y="60" width="22" height="1" fill="#a0a0a0" />
<rect x="1128" y="60" width="1" height="22" fill="#a0a0a0" />
<rect x="1128" y="81" width="22" height="1" fill="#ffffff" />
<rect x="1149" y="60" width="1" height="22" fill="#ffffff" />
<g transform="translate(1109,63)"><rect x="4.5" y="4.5" width="7" height="7" fill="#eef3fb" stroke="#4a6a9a"/><path d="M5 10 L7 8 L9 9 L11 6" stroke="#e02020" fill="none"/><path d="M1 1 H15 M1 15 H15" stroke="#111" stroke-width="1.4"/><path d="M0 1 L2.5 -1 V3 Z M16 1 L13.5 -1 V3 Z M0 15 L2.5 13 V17 Z M16 15 L13.5 13 V17 Z" fill="#111"/><path d="M1 8 H3 M13 8 H15" stroke="#111" stroke-width="1.4"/></g>
<g transform="translate(1132,63)"><rect x="4.5" y="4.5" width="7" height="7" fill="#eef3fb" stroke="#4a6a9a"/><path d="M5 10 L7 8 L9 9 L11 6" stroke="#e02020" fill="none"/><path d="M1 0.5 V15.5 M15 0.5 V15.5 M8 0.5 V3 M8 13 V15.5" stroke="#111" stroke-width="1.4"/><path d="M1 -0.5 L-1 2 H3 Z M15 -0.5 L13 2 H17 Z M1 16.5 L-1 14 H3 Z M15 16.5 L13 14 H17 Z" fill="#111"/></g>
<rect x="1153" y="62" width="1" height="20" fill="#a0a0a0" />
<rect x="1154" y="62" width="1" height="20" fill="#ffffff" />
<g transform="translate(1159,63)"><path d="M9 9.5 L13.5 14" stroke="#6b4d10" stroke-width="4"/><path d="M9.2 9.7 L13.3 13.8" stroke="#e0b43a" stroke-width="2.4"/><circle cx="6" cy="6" r="5.3" fill="#dfeaf8" stroke="#777" stroke-width="1.3"/><path d="M3 6 H9 M6 3 V9" stroke="#3a5e9c" stroke-width="2"/></g>
<g transform="translate(1182,63)"><path d="M9 9.5 L13.5 14" stroke="#6b4d10" stroke-width="4"/><path d="M9.2 9.7 L13.3 13.8" stroke="#e0b43a" stroke-width="2.4"/><circle cx="6" cy="6" r="5.3" fill="#dfeaf8" stroke="#777" stroke-width="1.3"/><path d="M3 6 H9" stroke="#3a5e9c" stroke-width="2"/></g>
<g transform="translate(1205,63)"><rect x="5.5" y="0.5" width="10" height="6" fill="#fff" stroke="#3a4e70"/><text x="10.6" y="5.8" font-size="6" font-weight="bold" fill="#111" text-anchor="middle">100</text><path d="M6 11 L9 14" stroke="#c06010" stroke-width="3"/><circle cx="4.5" cy="9.5" r="4" fill="#e4eefa" stroke="#888"/></g>
<rect x="1227" y="62" width="1" height="20" fill="#a0a0a0" />
<rect x="1228" y="62" width="1" height="20" fill="#ffffff" />
<g transform="translate(626,92)"><rect x="0" y="0" width="16" height="12" fill="#fff"/><rect x="1" y="1" width="4" height="4" fill="#a4a4a4"/><rect x="1" y="6" width="4" height="4" fill="#8c8c8c"/><rect x="6" y="1" width="4" height="4" fill="#a4a4a4"/><rect x="6" y="6" width="4" height="4" fill="#8c8c8c"/><rect x="11" y="1" width="4" height="4" fill="#a4a4a4"/><rect x="11" y="6" width="4" height="4" fill="#cfcfcf"/></g>
<path d="M650 98 h7 l-3.5 4z" fill="#9a9a9a"/>
<g transform="translate(667,93)"><text x="0" y="11" font-family="Liberation Serif" font-weight="bold" font-size="14" fill="#2c4f9e">A</text></g>
<g transform="translate(689,91)"><text x="0" y="10" font-family="Liberation Sans" font-weight="bold" font-size="12" fill="#3a74c4">A</text><rect x="10.5" y="0.5" width="3" height="3" fill="#fff" stroke="#3a74c4"/><path d="M7 13 L14 6" stroke="#e8d800" stroke-width="2.5"/><path d="M2 15 Q4 12 7 12.5 L6 14.5 Z" fill="#3a74c4"/></g>
<path d="M711 98 h7 l-3.5 4z" fill="#000"/>
<rect x="724" y="90" width="1" height="20" fill="#a0a0a0" />
<rect x="725" y="90" width="1" height="20" fill="#ffffff" />
<g transform="translate(730,92)"><rect x="0.5" y="0.5" width="6" height="6" fill="#e8e8e8" stroke="#b4b4b4"/><rect x="9.5" y="9.5" width="5" height="5" fill="#cdcdcd" stroke="#a4a4a4"/><rect x="3.5" y="3.5" width="8" height="8" fill="#d8d8d8" stroke="#a4a4a4"/></g>
<g transform="translate(753,92)"><rect x="0.5" y="0.5" width="6" height="6" fill="#e8e8e8" stroke="#b4b4b4"/><rect x="4.5" y="4.5" width="6" height="6" fill="#d8d8d8" stroke="#a4a4a4"/><rect x="8.5" y="8.5" width="6" height="6" fill="#cdcdcd" stroke="#a4a4a4"/></g>
<g transform="translate(7,9)"><rect x="0" y="0" width="16" height="16" fill="#000"/><rect x="1.5" y="1.5" width="13" height="13" fill="#d6d2ca"/><path d="M4 1.5 V14.5 M7 1.5 V14.5 M10 1.5 V14.5 M13 1.5 V14.5 M1.5 4 H14.5 M1.5 7 H14.5 M1.5 10 H14.5" stroke="#ece9e4" stroke-width="0.8"/><path d="M3 4 V13.5 M3 11.5 H9 M8.5 2.5 V11.5 M3.5 5 L6 7.5 L3.5 10 M8.5 5.5 L11 8 L8.5 10.5" stroke="#1030f0" stroke-width="1.2" fill="none"/><circle cx="3" cy="5.5" r="1.2" fill="#0020ff"/><circle cx="3.5" cy="10" r="1.2" fill="#0020ff"/><circle cx="2.5" cy="13" r="1" fill="#0020ff"/><rect x="11.5" y="3" width="3" height="1.6" fill="#f01010"/><rect x="9" y="6" width="3" height="1.6" fill="#f01010"/><rect x="11.5" y="9" width="3" height="1.6" fill="#f01010"/><rect x="9.5" y="12.2" width="5" height="2.3" fill="#fff"/><rect x="10" y="13" width="4.5" height="1" fill="#000"/></g>
<g transform="translate(622,9)"><rect x="0.5" y="0.5" width="15" height="15" fill="#fff" stroke="#000"/><rect x="1" y="1" width="14" height="2" fill="#0000ff"/><rect x="4.5" y="6.5" width="9" height="7" fill="#00e0f0" stroke="#000"/><path d="M5 11 Q9 6 13 11" stroke="#000" fill="none"/><path d="M2 6 h1 M2 8.5 h1 M2 11 h1" stroke="#555"/></g>
</svg>
</body></html>
